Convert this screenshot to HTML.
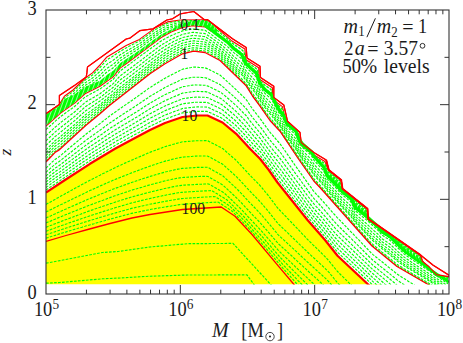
<!DOCTYPE html><html><head><meta charset="utf-8"><style>html,body{margin:0;padding:0;background:#fff;}body{width:463px;height:343px;overflow:hidden;position:relative;font-family:"Liberation Serif",serif;}</style></head><body><svg width="463" height="343" viewBox="0 0 463 343" style="position:absolute;left:0;top:0">
<defs><clipPath id="c"><rect x="46.0" y="10.0" width="403.0" height="274.6"/></clipPath></defs>
<rect width="100%" height="100%" fill="#fff"/>
<g clip-path="url(#c)">
<path d="M46,284.6 L46.0,192.5 L65.0,180.0 L90.0,163.8 L115.0,148.8 L131.2,140.0 L150.0,130.0 L165.0,123.0 L182.5,117.0 L197.5,115.5 L207.5,115.5 L222.5,122.5 L236.2,133.8 L250.0,148.8 L260.0,158.8 L268.8,170.0 L277.5,182.5 L287.5,195.0 L307.5,220.0 L325.0,240.0 L337.5,255.8 L368.2,284.5 L449.0,360.0 L380,284.6 Z" fill="#ffff00"/>
<g fill="none" stroke="#ff0000" stroke-width="1.15" stroke-linejoin="round">
<path d="M46.0,113.8 L59.4,104.4 L59.4,95.6 L74.4,85.6 L86.2,76.9 L86.9,72.9 L87.5,66.9 L126.2,39.0 L130.0,38.1 L140.0,30.6 L153.1,28.8 L166.9,20.0 L172.5,18.8 L180.6,13.8 L193.8,11.5 L204.4,19.8 L207.5,19.8 L232.5,38.8 L246.2,47.5 L247.0,58.0 L260.0,66.2 L260.5,77.5 L273.8,86.2 L273.8,97.5 L283.8,105.0 L287.5,121.2 L300.0,132.5 L301.2,142.5 L313.8,152.5 L326.2,160.0 L328.8,170.0 L341.2,180.0 L342.5,188.8 L367.5,208.8 L368.2,219.0 L379.5,226.5 L420.8,255.2 L433.2,265.2 L449.0,275.2"/>
<path d="M46.0,113.8 L59.4,104.4 L64.4,96.2 L73.0,90.0 L86.0,77.5 L92.5,72.9 L100.0,65.0 L106.9,56.9 L126.2,45.6 L130.0,43.8 L139.4,39.4 L155.0,28.1 L167.5,21.9 L180.0,20.0 L204.4,19.8 L207.5,19.8 L231.2,40.4 L244.9,49.1 L245.7,59.6 L258.7,67.8 L259.2,79.1 L272.4,87.8 L272.4,99.1 L282.4,106.6 L286.2,122.8 L298.7,134.1 L299.9,144.1 L312.4,154.1 L324.9,161.6 L328.4,170.4 L340.9,180.4 L342.2,189.2 L367.2,209.2 L367.9,219.4 L379.2,226.9 L420.4,255.7 L423.0,262.0 L428.2,266.5 L436.0,275.5 L449.0,277.0"/>
<path d="M46.0,126.0 L60.6,113.0 L75.0,102.9 L85.0,93.8 L100.0,86.2 L113.1,76.9 L120.0,68.1 L127.9,62.5 L137.9,55.0 L147.5,47.9 L161.2,37.5 L171.2,31.9 L182.5,27.5 L192.5,25.6 L205.0,26.9 L211.2,31.2"/>
</g>
<g fill="none" stroke="#00ff00" stroke-width="1.15" stroke-dasharray="2.7 1.3">
<path d="M46.0,115.2 L47.5,114.1 L49.0,113.1 L50.5,112.0 L52.0,110.9 L53.5,109.8 L55.0,108.7 L56.5,107.7 L58.0,106.6 L59.5,105.4 L61.0,103.1 L62.5,100.8 L64.0,98.5 L65.5,97.1 L67.0,96.1 L68.5,95.0 L70.0,93.9 L71.5,92.8 L73.0,91.7 L74.5,90.3 L76.0,88.9 L77.5,87.5 L79.0,86.0 L80.5,84.6 L82.0,83.2 L83.5,81.7 L85.0,80.3 L86.5,79.0 L88.0,78.0 L89.5,77.0 L91.0,76.0 L92.5,75.0 L94.0,73.5 L95.5,72.0 L97.0,70.5 L98.5,69.0 L100.0,67.5 L101.5,65.9 L103.0,64.2 L104.5,62.5 L106.0,60.8 L107.5,59.5 L109.0,58.6 L110.5,57.7 L112.0,56.8 L113.5,55.8 L115.0,54.8 L116.5,53.8 L118.0,52.8 L119.5,51.8 L121.0,50.9 L122.5,50.0 L124.0,49.1 L125.5,48.2 L127.0,47.4 L128.5,46.6 L130.0,45.8 L131.5,45.1 L133.0,44.3 L134.5,43.6 L136.0,42.8 L137.5,42.1 L139.0,41.3 L140.5,40.3 L142.0,39.3 L143.5,38.2 L145.0,37.1 L146.5,36.0 L148.0,34.9 L149.5,33.8 L151.0,32.7 L152.5,31.6 L154.0,30.5 L155.5,29.5 L157.0,28.7 L158.5,27.9 L160.0,27.2 L161.5,26.4 L163.0,25.6 L164.5,24.9 L166.0,24.1 L167.5,23.4 L169.0,23.1 L170.5,22.7 L172.0,22.5 L173.5,22.2 L175.0,21.9 L176.5,21.6 L178.0,21.4 L179.5,21.1 L181.0,21.0 L182.5,20.9 L184.0,20.8 L185.5,20.8 L187.0,20.7 L188.5,20.7 L190.0,20.6 L191.5,20.6 L193.0,20.6 L194.5,20.6 L196.0,20.6 L197.5,20.6 L199.0,20.6 L200.5,20.6 L202.0,20.6 L203.5,20.6 L205.0,20.6 L206.5,20.7 L208.0,21.2 L209.5,22.5 L211.0,23.8 L212.5,25.1 L214.0,26.4 L215.5,27.7"/>
<path d="M46.0,117.4 L47.5,116.3 L49.0,115.2 L50.5,114.0 L52.0,112.9 L53.5,111.8 L55.0,110.6 L56.5,109.5 L58.0,108.4 L59.5,107.2 L61.0,105.1 L62.5,103.0 L64.0,101.0 L65.5,99.7 L67.0,98.6 L68.5,97.5 L70.0,96.4 L71.5,95.4 L73.0,94.3 L74.5,93.0 L76.0,91.6 L77.5,90.2 L79.0,88.7 L80.5,87.3 L82.0,85.9 L83.5,84.5 L85.0,83.0 L86.5,81.9 L88.0,80.9 L89.5,80.0 L91.0,79.0 L92.5,78.0 L94.0,76.7 L95.5,75.4 L97.0,74.0 L98.5,72.7 L100.0,71.4 L101.5,69.8 L103.0,68.3 L104.5,66.7 L106.0,65.2 L107.5,63.9 L109.0,62.9 L110.5,62.0 L112.0,61.1 L113.5,60.0 L115.0,58.9 L116.5,57.7 L118.0,56.5 L119.5,55.3 L121.0,54.3 L122.5,53.4 L124.0,52.4 L125.5,51.5 L127.0,50.6 L128.5,49.8 L130.0,48.9 L131.5,48.1 L133.0,47.3 L134.5,46.4 L136.0,45.6 L137.5,44.8 L139.0,44.0 L140.5,42.9 L142.0,41.9 L143.5,40.8 L145.0,39.7 L146.5,38.6 L148.0,37.5 L149.5,36.4 L151.0,35.3 L152.5,34.2 L154.0,33.1 L155.5,32.1 L157.0,31.2 L158.5,30.3 L160.0,29.5 L161.5,28.6 L163.0,27.8 L164.5,27.1 L166.0,26.3 L167.5,25.5 L169.0,25.1 L170.5,24.7 L172.0,24.3 L173.5,24.0 L175.0,23.7 L176.5,23.3 L178.0,23.0 L179.5,22.7 L181.0,22.4 L182.5,22.2 L184.0,22.1 L185.5,22.0 L187.0,21.9 L188.5,21.8 L190.0,21.8 L191.5,21.7 L193.0,21.6 L194.5,21.6 L196.0,21.7 L197.5,21.7 L199.0,21.7 L200.5,21.8 L202.0,21.8 L203.5,21.9 L205.0,21.9 L206.5,22.2 L208.0,22.8 L209.5,24.1 L211.0,25.3 L212.5,26.6 L214.0,27.8 L215.5,29.1"/>
<path d="M46.0,119.5 L47.5,118.3 L49.0,117.1 L50.5,116.0 L52.0,114.8 L53.5,113.6 L55.0,112.4 L56.5,111.2 L58.0,110.0 L59.5,108.8 L61.0,106.9 L62.5,105.1 L64.0,103.3 L65.5,102.1 L67.0,101.0 L68.5,99.9 L70.0,98.9 L71.5,97.8 L73.0,96.7 L74.5,95.5 L76.0,94.1 L77.5,92.7 L79.0,91.3 L80.5,89.9 L82.0,88.5 L83.5,87.1 L85.0,85.6 L86.5,84.6 L88.0,83.7 L89.5,82.8 L91.0,81.9 L92.5,80.9 L94.0,79.7 L95.5,78.6 L97.0,77.4 L98.5,76.2 L100.0,75.0 L101.5,73.6 L103.0,72.1 L104.5,70.7 L106.0,69.2 L107.5,68.0 L109.0,67.0 L110.5,66.1 L112.0,65.1 L113.5,64.0 L115.0,62.7 L116.5,61.3 L118.0,59.9 L119.5,58.6 L121.0,57.5 L122.5,56.5 L124.0,55.5 L125.5,54.6 L127.0,53.6 L128.5,52.7 L130.0,51.8 L131.5,50.9 L133.0,50.0 L134.5,49.1 L136.0,48.2 L137.5,47.3 L139.0,46.4 L140.5,45.4 L142.0,44.3 L143.5,43.2 L145.0,42.1 L146.5,41.0 L148.0,39.9 L149.5,38.8 L151.0,37.7 L152.5,36.6 L154.0,35.5 L155.5,34.4 L157.0,33.5 L158.5,32.6 L160.0,31.6 L161.5,30.7 L163.0,30.0 L164.5,29.2 L166.0,28.4 L167.5,27.6 L169.0,27.1 L170.5,26.6 L172.0,26.1 L173.5,25.7 L175.0,25.3 L176.5,24.9 L178.0,24.5 L179.5,24.1 L181.0,23.8 L182.5,23.5 L184.0,23.4 L185.5,23.2 L187.0,23.1 L188.5,22.9 L190.0,22.8 L191.5,22.7 L193.0,22.6 L194.5,22.7 L196.0,22.7 L197.5,22.8 L199.0,22.8 L200.5,22.9 L202.0,23.0 L203.5,23.0 L205.0,23.1 L206.5,23.6 L208.0,24.3 L209.5,25.5 L211.0,26.7 L212.5,28.0 L214.0,29.2 L215.5,30.5"/>
<path d="M46.0,121.3 L47.5,120.1 L49.0,118.9 L50.5,117.7 L52.0,116.4 L53.5,115.2 L55.0,114.0 L56.5,112.8 L58.0,111.5 L59.5,110.3 L61.0,108.6 L62.5,107.0 L64.0,105.4 L65.5,104.2 L67.0,103.1 L68.5,102.1 L70.0,101.0 L71.5,99.9 L73.0,98.9 L74.5,97.7 L76.0,96.3 L77.5,94.9 L79.0,93.5 L80.5,92.1 L82.0,90.7 L83.5,89.3 L85.0,87.9 L86.5,87.0 L88.0,86.1 L89.5,85.2 L91.0,84.4 L92.5,83.5 L94.0,82.4 L95.5,81.4 L97.0,80.3 L98.5,79.2 L100.0,78.2 L101.5,76.8 L103.0,75.5 L104.5,74.2 L106.0,72.8 L107.5,71.6 L109.0,70.6 L110.5,69.7 L112.0,68.7 L113.5,67.5 L115.0,66.0 L116.5,64.5 L118.0,63.0 L119.5,61.4 L121.0,60.3 L122.5,59.3 L124.0,58.3 L125.5,57.3 L127.0,56.3 L128.5,55.4 L130.0,54.4 L131.5,53.4 L133.0,52.5 L134.5,51.5 L136.0,50.6 L137.5,49.6 L139.0,48.6 L140.5,47.6 L142.0,46.5 L143.5,45.4 L145.0,44.3 L146.5,43.2 L148.0,42.1 L149.5,41.0 L151.0,39.8 L152.5,38.7 L154.0,37.6 L155.5,36.5 L157.0,35.5 L158.5,34.6 L160.0,33.6 L161.5,32.6 L163.0,31.8 L164.5,31.0 L166.0,30.2 L167.5,29.4 L169.0,28.8 L170.5,28.2 L172.0,27.7 L173.5,27.2 L175.0,26.8 L176.5,26.3 L178.0,25.9 L179.5,25.4 L181.0,25.0 L182.5,24.6 L184.0,24.5 L185.5,24.3 L187.0,24.1 L188.5,23.9 L190.0,23.7 L191.5,23.5 L193.0,23.5 L194.5,23.5 L196.0,23.6 L197.5,23.7 L199.0,23.8 L200.5,23.9 L202.0,24.0 L203.5,24.1 L205.0,24.2 L206.5,24.8 L208.0,25.6 L209.5,26.8 L211.0,27.9 L212.5,29.2 L214.0,30.5 L215.5,31.7"/>
<path d="M46.0,129.6 L47.5,128.2 L49.0,126.9 L50.5,125.5 L52.0,124.2 L53.5,122.8 L55.0,121.4 L56.5,120.1 L58.0,118.9 L59.5,117.5 L61.0,116.3 L62.5,115.2 L64.0,114.1 L65.5,113.0 L67.0,111.9 L68.5,110.8 L70.0,109.7 L71.5,108.7 L73.0,107.6 L74.5,106.5 L76.0,105.2 L77.5,103.8 L79.0,102.5 L80.5,101.1 L82.0,99.7 L83.5,98.4 L85.0,97.0 L86.5,96.2 L88.0,95.4 L89.5,94.6 L91.0,93.8 L92.5,93.0 L94.0,92.2 L95.5,91.4 L97.0,90.6 L98.5,89.8 L100.0,89.0 L101.5,87.9 L103.0,86.8 L104.5,85.7 L106.0,84.6 L107.5,83.5 L109.0,82.4 L110.5,81.3 L112.0,80.3 L113.5,79.0 L115.0,77.1 L116.5,75.3 L118.0,73.5 L119.5,71.6 L121.0,70.3 L122.5,69.2 L124.0,68.1 L125.5,67.1 L127.0,66.0 L128.5,64.9 L130.0,63.8 L131.5,62.6 L133.0,61.5 L134.5,60.4 L136.0,59.3 L137.5,58.1 L139.0,57.0 L140.5,55.9 L142.0,54.8 L143.5,53.7 L145.0,52.7 L146.5,51.6 L148.0,50.5 L149.5,49.4 L151.0,48.3 L152.5,47.2 L154.0,46.1 L155.5,45.0 L157.0,44.0 L158.5,42.9 L160.0,41.8 L161.5,40.8 L163.0,39.9 L164.5,39.1 L166.0,38.3 L167.5,37.5 L169.0,36.7 L170.5,35.9 L172.0,35.2 L173.5,34.6 L175.0,34.0 L176.5,33.4 L178.0,32.8 L179.5,32.2 L181.0,31.5 L182.5,30.9 L184.0,30.6 L185.5,30.3 L187.0,30.0 L188.5,29.7 L190.0,29.5 L191.5,29.2 L193.0,29.0 L194.5,29.1 L196.0,29.3 L197.5,29.4 L199.0,29.6 L200.5,29.8 L202.0,29.9 L203.5,30.1 L205.0,30.2 L206.5,31.2 L208.0,32.3 L209.5,33.3 L211.0,34.3 L212.5,35.4 L214.0,36.6 L215.5,37.8 L217.0,38.8 L218.5,39.9 L220.0,40.9 L221.5,42.1 L223.0,43.2 L224.5,44.3 L226.0,45.4 L227.5,46.6 L229.0,48.0 L230.5,49.5 L232.0,50.9 L233.5,52.4 L235.0,53.6 L236.5,54.7 L238.0,55.9 L239.5,57.0 L241.0,58.2 L242.5,60.2 L244.0,63.6 L245.5,66.5 L247.0,68.2 L248.5,69.7 L250.0,71.1 L251.5,72.6 L253.0,74.0 L254.5,75.4 L256.0,76.8 L257.5,80.4 L259.0,84.4 L260.5,87.8 L262.0,89.7 L263.5,91.6 L265.0,93.5 L266.5,94.8 L268.0,96.1 L269.5,97.3 L271.0,98.6 L272.5,101.1 L274.0,103.9 L275.5,106.9 L277.0,110.0 L278.5,112.2 L280.0,114.4 L281.5,116.4 L283.0,118.4 L284.5,121.2 L286.0,124.6 L287.5,127.2 L289.0,128.6 L290.5,130.0 L292.0,131.4 L293.5,132.7 L295.0,134.1 L296.5,136.0 L298.0,140.3 L299.5,143.5 L301.0,145.5 L302.5,147.5 L304.0,148.8 L305.5,150.2 L307.0,151.5 L308.5,152.9 L310.0,154.2 L311.5,155.8 L313.0,158.5 L314.5,160.9 L316.0,162.5 L317.5,164.2 L319.0,165.8 L320.5,167.5 L322.0,169.1 L323.5,170.8 L325.0,173.8 L326.5,177.1 L328.0,179.8 L329.5,181.4 L331.0,182.9 L332.5,184.4 L334.0,185.9 L335.5,187.4 L337.0,189.1 L338.5,190.8 L340.0,192.5 L341.5,194.1 L343.0,195.4 L344.5,196.6 L346.0,197.9 L347.5,199.1 L349.0,200.4 L350.5,201.6 L352.0,203.9 L353.5,207.2 L355.0,210.6 L356.5,211.8 L358.0,213.0 L359.5,214.2 L361.0,215.4 L362.5,216.7 L364.0,217.9 L365.5,219.1 L367.0,220.4 L368.5,221.7 L370.0,223.1 L371.5,224.5 L373.0,225.8 L374.5,227.2 L376.0,228.5 L377.5,229.9 L379.0,231.4 L380.5,233.5 L382.0,235.1 L383.5,236.0 L385.0,237.0 L386.5,238.0 L388.0,238.9 L389.5,239.9 L391.0,241.2 L392.5,242.7 L394.0,244.1 L395.5,245.6 L397.0,247.1 L398.5,248.5 L400.0,250.0 L401.5,251.4 L403.0,252.9 L404.5,254.3 L406.0,255.4 L407.5,256.4 L409.0,257.4 L410.5,258.4 L412.0,259.4 L413.5,260.5 L415.0,261.5 L416.5,262.5 L418.0,263.5 L419.5,264.5 L421.0,265.6 L422.5,266.6 L424.0,267.6 L425.5,268.6 L427.0,269.6 L428.5,270.6 L430.0,271.6 L431.5,272.6 L433.0,273.6 L434.5,274.6 L436.0,275.6 L437.5,276.6 L439.0,277.6 L440.5,278.6 L442.0,279.7 L443.5,280.7 L445.0,281.7 L446.5,282.7 L448.0,283.7"/>
<path d="M46.0,135.7 L47.5,134.3 L49.0,132.9 L50.5,131.5 L52.0,130.1 L53.5,128.7 L55.0,127.3 L56.5,126.1 L58.0,124.9 L59.5,123.6 L61.0,122.3 L62.5,121.1 L64.0,120.0 L65.5,118.9 L67.0,117.7 L68.5,116.6 L70.0,115.4 L71.5,114.3 L73.0,113.2 L74.5,112.0 L76.0,110.7 L77.5,109.3 L79.0,108.0 L80.5,106.6 L82.0,105.2 L83.5,103.9 L85.0,102.5 L86.5,101.6 L88.0,100.7 L89.5,99.8 L91.0,98.9 L92.5,98.1 L94.0,97.2 L95.5,96.3 L97.0,95.4 L98.5,94.6 L100.0,93.7 L101.5,92.5 L103.0,91.4 L104.5,90.3 L106.0,89.1 L107.5,88.0 L109.0,86.8 L110.5,85.7 L112.0,84.6 L113.5,83.4 L115.0,81.7 L116.5,80.0 L118.0,78.2 L119.5,76.5 L121.0,75.2 L122.5,74.1 L124.0,73.0 L125.5,72.0 L127.0,70.9 L128.5,69.7 L130.0,68.6 L131.5,67.5 L133.0,66.3 L134.5,65.2 L136.0,64.1 L137.5,62.9 L139.0,61.8 L140.5,60.7 L142.0,59.5 L143.5,58.4 L145.0,57.2 L146.5,56.1 L148.0,55.0 L149.5,53.8 L151.0,52.7 L152.5,51.6 L154.0,50.5 L155.5,49.3 L157.0,48.2 L158.5,47.1 L160.0,46.0 L161.5,44.9 L163.0,44.0 L164.5,43.2 L166.0,42.3 L167.5,41.4 L169.0,40.6 L170.5,39.7 L172.0,38.9 L173.5,38.3 L175.0,37.6 L176.5,37.0 L178.0,36.3 L179.5,35.6 L181.0,35.0 L182.5,34.3 L184.0,34.0 L185.5,33.7 L187.0,33.4 L188.5,33.1 L190.0,32.8 L191.5,32.5 L193.0,32.4 L194.5,32.4 L196.0,32.6 L197.5,32.8 L199.0,32.9 L200.5,33.1 L202.0,33.2 L203.5,33.4 L205.0,33.6 L206.5,34.5 L208.0,35.5 L209.5,36.5 L211.0,37.5 L212.5,38.6 L214.0,39.7 L215.5,40.8 L217.0,41.9 L218.5,42.9 L220.0,44.0 L221.5,45.2 L223.0,46.4 L224.5,47.6 L226.0,48.9 L227.5,50.1 L229.0,51.6 L230.5,53.1 L232.0,54.6 L233.5,56.1 L235.0,57.4 L236.5,58.6 L238.0,59.8 L239.5,61.1 L241.0,62.3 L242.5,64.3 L244.0,67.3 L245.5,70.0 L247.0,71.8 L248.5,73.4 L250.0,75.1 L251.5,76.7 L253.0,78.3 L254.5,79.8 L256.0,81.4 L257.5,84.7 L259.0,88.3 L260.5,91.4 L262.0,93.3 L263.5,95.3 L265.0,97.2 L266.5,98.7 L268.0,100.1 L269.5,101.6 L271.0,102.9 L272.5,105.3 L274.0,107.8 L275.5,110.6 L277.0,113.4 L278.5,115.5 L280.0,117.6 L281.5,119.6 L283.0,121.7 L284.5,124.3 L286.0,127.6 L287.5,130.1 L289.0,131.6 L290.5,133.2 L292.0,134.7 L293.5,136.3 L295.0,137.8 L296.5,139.8 L298.0,143.7 L299.5,146.7 L301.0,148.7 L302.5,150.7 L304.0,152.2 L305.5,153.7 L307.0,155.2 L308.5,156.7 L310.0,158.2 L311.5,159.9 L313.0,162.6 L314.5,164.8 L316.0,166.5 L317.5,168.1 L319.0,169.7 L320.5,171.3 L322.0,173.0 L323.5,174.7 L325.0,177.5 L326.5,180.5 L328.0,183.0 L329.5,184.5 L331.0,186.1 L332.5,187.6 L334.0,189.2 L335.5,190.7 L337.0,192.4 L338.5,194.1 L340.0,195.8 L341.5,197.5 L343.0,198.8 L344.5,200.1 L346.0,201.5 L347.5,202.8 L349.0,204.1 L350.5,205.5 L352.0,207.6 L353.5,210.6 L355.0,213.6 L356.5,215.0 L358.0,216.3 L359.5,217.6 L361.0,218.9 L362.5,220.2 L364.0,221.5 L365.5,222.8 L367.0,224.2 L368.5,225.6 L370.0,227.0 L371.5,228.4 L373.0,229.8 L374.5,231.1 L376.0,232.5 L377.5,233.8 L379.0,235.2 L380.5,237.2 L382.0,238.7 L383.5,239.7 L385.0,240.7 L386.5,241.7 L388.0,242.7 L389.5,243.7 L391.0,245.0 L392.5,246.5 L394.0,247.9 L395.5,249.3 L397.0,250.8 L398.5,252.1 L400.0,253.4 L401.5,254.8 L403.0,256.1 L404.5,257.4 L406.0,258.4 L407.5,259.4 L409.0,260.4 L410.5,261.4 L412.0,262.4 L413.5,263.4 L415.0,264.4 L416.5,265.4 L418.0,266.4 L419.5,267.4 L421.0,268.3 L422.5,269.3 L424.0,270.3 L425.5,271.3 L427.0,272.3 L428.5,273.2 L430.0,274.2 L431.5,275.2 L433.0,276.2 L434.5,277.2 L436.0,278.1 L437.5,279.1 L439.0,280.1 L440.5,281.1 L442.0,282.1 L443.5,283.1 L445.0,284.0 L446.5,285.0 L448.0,286.0"/>
<path d="M46.0,140.8 L47.5,139.3 L49.0,137.9 L50.5,136.5 L52.0,135.0 L53.5,133.6 L55.0,132.1 L56.5,130.9 L58.0,129.8 L59.5,128.5 L61.0,127.2 L62.5,126.0 L64.0,124.9 L65.5,123.7 L67.0,122.5 L68.5,121.3 L70.0,120.1 L71.5,118.9 L73.0,117.7 L74.5,116.6 L76.0,115.2 L77.5,113.9 L79.0,112.5 L80.5,111.1 L82.0,109.8 L83.5,108.4 L85.0,107.0 L86.5,106.0 L88.0,105.1 L89.5,104.1 L91.0,103.2 L92.5,102.3 L94.0,101.3 L95.5,100.4 L97.0,99.4 L98.5,98.5 L100.0,97.5 L101.5,96.3 L103.0,95.2 L104.5,94.0 L106.0,92.8 L107.5,91.6 L109.0,90.5 L110.5,89.4 L112.0,88.3 L113.5,87.0 L115.0,85.4 L116.5,83.8 L118.0,82.2 L119.5,80.6 L121.0,79.3 L122.5,78.2 L124.0,77.1 L125.5,76.0 L127.0,74.9 L128.5,73.7 L130.0,72.6 L131.5,71.4 L133.0,70.3 L134.5,69.2 L136.0,68.0 L137.5,66.9 L139.0,65.7 L140.5,64.6 L142.0,63.4 L143.5,62.2 L145.0,61.1 L146.5,59.9 L148.0,58.7 L149.5,57.5 L151.0,56.4 L152.5,55.3 L154.0,54.2 L155.5,53.1 L157.0,51.9 L158.5,50.8 L160.0,49.7 L161.5,48.6 L163.0,47.7 L164.5,46.7 L166.0,45.8 L167.5,44.9 L169.0,44.1 L170.5,43.2 L172.0,42.4 L173.5,41.6 L175.0,40.9 L176.5,40.2 L178.0,39.5 L179.5,38.9 L181.0,38.2 L182.5,37.5 L184.0,37.2 L185.5,36.9 L187.0,36.6 L188.5,36.3 L190.0,36.0 L191.5,35.7 L193.0,35.4 L194.5,35.5 L196.0,35.7 L197.5,35.8 L199.0,36.0 L200.5,36.1 L202.0,36.3 L203.5,36.5 L205.0,36.6 L206.5,37.6 L208.0,38.5 L209.5,39.5 L211.0,40.4 L212.5,41.5 L214.0,42.6 L215.5,43.6 L217.0,44.7 L218.5,45.7 L220.0,46.7 L221.5,48.0 L223.0,49.3 L224.5,50.6 L226.0,51.9 L227.5,53.2 L229.0,54.7 L230.5,56.2 L232.0,57.7 L233.5,59.2 L235.0,60.6 L236.5,61.9 L238.0,63.2 L239.5,64.5 L241.0,65.8 L242.5,67.7 L244.0,70.4 L245.5,72.9 L247.0,74.7 L248.5,76.5 L250.0,78.3 L251.5,80.1 L253.0,81.8 L254.5,83.5 L256.0,85.1 L257.5,88.1 L259.0,91.5 L260.5,94.4 L262.0,96.4 L263.5,98.3 L265.0,100.3 L266.5,101.9 L268.0,103.5 L269.5,105.1 L271.0,106.5 L272.5,108.7 L274.0,111.1 L275.5,113.6 L277.0,116.2 L278.5,118.2 L280.0,120.2 L281.5,122.3 L283.0,124.4 L284.5,127.0 L286.0,130.0 L287.5,132.5 L289.0,134.2 L290.5,135.8 L292.0,137.5 L293.5,139.2 L295.0,140.9 L296.5,142.9 L298.0,146.5 L299.5,149.3 L301.0,151.3 L302.5,153.4 L304.0,155.0 L305.5,156.6 L307.0,158.3 L308.5,159.9 L310.0,161.6 L311.5,163.3 L313.0,165.9 L314.5,168.1 L316.0,169.7 L317.5,171.3 L319.0,172.9 L320.5,174.6 L322.0,176.2 L323.5,177.9 L325.0,180.5 L326.5,183.2 L328.0,185.6 L329.5,187.2 L331.0,188.7 L332.5,190.3 L334.0,191.9 L335.5,193.5 L337.0,195.1 L338.5,196.8 L340.0,198.5 L341.5,200.2 L343.0,201.6 L344.5,203.0 L346.0,204.4 L347.5,205.8 L349.0,207.2 L350.5,208.6 L352.0,210.7 L353.5,213.4 L355.0,216.2 L356.5,217.6 L358.0,218.9 L359.5,220.3 L361.0,221.7 L362.5,223.1 L364.0,224.5 L365.5,225.8 L367.0,227.3 L368.5,228.7 L370.0,230.2 L371.5,231.7 L373.0,233.1 L374.5,234.4 L376.0,235.7 L377.5,237.0 L379.0,238.4 L380.5,240.2 L382.0,241.7 L383.5,242.7 L385.0,243.8 L386.5,244.8 L388.0,245.9 L389.5,246.9 L391.0,248.2 L392.5,249.6 L394.0,251.0 L395.5,252.4 L397.0,253.8 L398.5,255.0 L400.0,256.3 L401.5,257.5 L403.0,258.8 L404.5,260.0 L406.0,261.0 L407.5,261.9 L409.0,262.9 L410.5,263.9 L412.0,264.8 L413.5,265.8 L415.0,266.8 L416.5,267.7 L418.0,268.7 L419.5,269.7 L421.0,270.6 L422.5,271.6 L424.0,272.6 L425.5,273.5 L427.0,274.5 L428.5,275.4 L430.0,276.4 L431.5,277.3 L433.0,278.3 L434.5,279.3 L436.0,280.2 L437.5,281.2 L439.0,282.1 L440.5,283.1 L442.0,284.1 L443.5,285.0 L445.0,286.0 L446.5,286.9 L448.0,287.9"/>
<path d="M46.0,145.4 L47.5,144.0 L49.0,142.5 L50.5,141.0 L52.0,139.6 L53.5,138.1 L55.0,136.6 L56.5,135.5 L58.0,134.4 L59.5,133.1 L61.0,131.8 L62.5,130.6 L64.0,129.4 L65.5,128.1 L67.0,126.9 L68.5,125.7 L70.0,124.4 L71.5,123.2 L73.0,122.0 L74.5,120.8 L76.0,119.5 L77.5,118.1 L79.0,116.7 L80.5,115.3 L82.0,114.0 L83.5,112.6 L85.0,111.2 L86.5,110.2 L88.0,109.2 L89.5,108.2 L91.0,107.1 L92.5,106.1 L94.0,105.1 L95.5,104.1 L97.0,103.1 L98.5,102.1 L100.0,101.1 L101.5,99.9 L103.0,98.7 L104.5,97.5 L106.0,96.3 L107.5,95.1 L109.0,93.9 L110.5,92.7 L112.0,91.6 L113.5,90.4 L115.0,88.9 L116.5,87.3 L118.0,85.8 L119.5,84.3 L121.0,83.1 L122.5,81.9 L124.0,80.8 L125.5,79.7 L127.0,78.6 L128.5,77.4 L130.0,76.3 L131.5,75.1 L133.0,74.0 L134.5,72.8 L136.0,71.7 L137.5,70.5 L139.0,69.4 L140.5,68.2 L142.0,67.0 L143.5,65.8 L145.0,64.6 L146.5,63.4 L148.0,62.2 L149.5,61.0 L151.0,59.8 L152.5,58.7 L154.0,57.6 L155.5,56.5 L157.0,55.3 L158.5,54.2 L160.0,53.1 L161.5,52.0 L163.0,51.0 L164.5,50.0 L166.0,49.1 L167.5,48.2 L169.0,47.3 L170.5,46.4 L172.0,45.5 L173.5,44.7 L175.0,44.0 L176.5,43.2 L178.0,42.5 L179.5,41.8 L181.0,41.1 L182.5,40.4 L184.0,40.1 L185.5,39.7 L187.0,39.4 L188.5,39.1 L190.0,38.8 L191.5,38.5 L193.0,38.3 L194.5,38.3 L196.0,38.5 L197.5,38.6 L199.0,38.8 L200.5,39.0 L202.0,39.1 L203.5,39.3 L205.0,39.4 L206.5,40.4 L208.0,41.3 L209.5,42.2 L211.0,43.1 L212.5,44.2 L214.0,45.2 L215.5,46.2 L217.0,47.2 L218.5,48.3 L220.0,49.3 L221.5,50.6 L223.0,52.0 L224.5,53.3 L226.0,54.7 L227.5,56.0 L229.0,57.5 L230.5,59.1 L232.0,60.6 L233.5,62.1 L235.0,63.5 L236.5,64.9 L238.0,66.3 L239.5,67.6 L241.0,69.0 L242.5,70.8 L244.0,73.3 L245.5,75.6 L247.0,77.4 L248.5,79.3 L250.0,81.3 L251.5,83.2 L253.0,85.1 L254.5,86.8 L256.0,88.5 L257.5,91.4 L259.0,94.4 L260.5,97.1 L262.0,99.2 L263.5,101.2 L265.0,103.2 L266.5,104.9 L268.0,106.6 L269.5,108.3 L271.0,109.8 L272.5,111.9 L274.0,114.1 L275.5,116.5 L277.0,118.8 L278.5,120.7 L280.0,122.6 L281.5,124.8 L283.0,126.9 L284.5,129.4 L286.0,132.2 L287.5,134.7 L289.0,136.5 L290.5,138.3 L292.0,140.1 L293.5,141.9 L295.0,143.7 L296.5,145.8 L298.0,149.1 L299.5,151.7 L301.0,153.8 L302.5,155.9 L304.0,157.6 L305.5,159.3 L307.0,161.1 L308.5,162.9 L310.0,164.6 L311.5,166.5 L313.0,169.0 L314.5,171.1 L316.0,172.7 L317.5,174.3 L319.0,175.9 L320.5,177.5 L322.0,179.2 L323.5,180.9 L325.0,183.3 L326.5,185.8 L328.0,188.0 L329.5,189.6 L331.0,191.2 L332.5,192.8 L334.0,194.4 L335.5,196.0 L337.0,197.6 L338.5,199.4 L340.0,201.1 L341.5,202.7 L343.0,204.2 L344.5,205.6 L346.0,207.1 L347.5,208.6 L349.0,210.0 L350.5,211.5 L352.0,213.5 L353.5,216.0 L355.0,218.5 L356.5,220.0 L358.0,221.4 L359.5,222.9 L361.0,224.3 L362.5,225.8 L364.0,227.2 L365.5,228.7 L367.0,230.2 L368.5,231.7 L370.0,233.2 L371.5,234.7 L373.0,236.1 L374.5,237.4 L376.0,238.7 L377.5,240.0 L379.0,241.3 L380.5,243.0 L382.0,244.4 L383.5,245.5 L385.0,246.6 L386.5,247.7 L388.0,248.8 L389.5,249.9 L391.0,251.2 L392.5,252.5 L394.0,253.9 L395.5,255.2 L397.0,256.6 L398.5,257.7 L400.0,258.9 L401.5,260.1 L403.0,261.2 L404.5,262.4 L406.0,263.3 L407.5,264.3 L409.0,265.2 L410.5,266.2 L412.0,267.1 L413.5,268.1 L415.0,269.0 L416.5,269.9 L418.0,270.9 L419.5,271.8 L421.0,272.8 L422.5,273.7 L424.0,274.7 L425.5,275.6 L427.0,276.5 L428.5,277.5 L430.0,278.4 L431.5,279.3 L433.0,280.3 L434.5,281.2 L436.0,282.2 L437.5,283.1 L439.0,284.0 L440.5,285.0 L442.0,285.9 L443.5,286.8 L445.0,287.8 L446.5,288.7 L448.0,289.7"/>
<path d="M46.0,149.8 L47.5,148.3 L49.0,146.8 L50.5,145.3 L52.0,143.8 L53.5,142.3 L55.0,140.8 L56.5,139.6 L58.0,138.7 L59.5,137.4 L61.0,136.1 L62.5,134.8 L64.0,133.5 L65.5,132.3 L67.0,131.0 L68.5,129.7 L70.0,128.5 L71.5,127.2 L73.0,125.9 L74.5,124.7 L76.0,123.3 L77.5,122.0 L79.0,120.6 L80.5,119.2 L82.0,117.9 L83.5,116.5 L85.0,115.1 L86.5,114.0 L88.0,112.9 L89.5,111.9 L91.0,110.8 L92.5,109.7 L94.0,108.7 L95.5,107.6 L97.0,106.5 L98.5,105.5 L100.0,104.4 L101.5,103.2 L103.0,101.9 L104.5,100.7 L106.0,99.4 L107.5,98.2 L109.0,97.0 L110.5,95.8 L112.0,94.7 L113.5,93.5 L115.0,92.1 L116.5,90.6 L118.0,89.2 L119.5,87.8 L121.0,86.6 L122.5,85.4 L124.0,84.3 L125.5,83.1 L127.0,82.0 L128.5,80.9 L130.0,79.7 L131.5,78.6 L133.0,77.4 L134.5,76.2 L136.0,75.1 L137.5,73.9 L139.0,72.8 L140.5,71.6 L142.0,70.4 L143.5,69.1 L145.0,67.9 L146.5,66.7 L148.0,65.4 L149.5,64.2 L151.0,63.0 L152.5,61.9 L154.0,60.7 L155.5,59.6 L157.0,58.5 L158.5,57.3 L160.0,56.2 L161.5,55.1 L163.0,54.1 L164.5,53.0 L166.0,52.1 L167.5,51.1 L169.0,50.2 L170.5,49.3 L172.0,48.4 L173.5,47.5 L175.0,46.7 L176.5,46.0 L178.0,45.2 L179.5,44.5 L181.0,43.7 L182.5,43.0 L184.0,42.7 L185.5,42.4 L187.0,42.0 L188.5,41.7 L190.0,41.4 L191.5,41.1 L193.0,40.9 L194.5,40.9 L196.0,41.0 L197.5,41.2 L199.0,41.4 L200.5,41.5 L202.0,41.7 L203.5,41.8 L205.0,42.0 L206.5,42.9 L208.0,43.8 L209.5,44.7 L211.0,45.6 L212.5,46.6 L214.0,47.6 L215.5,48.6 L217.0,49.6 L218.5,50.6 L220.0,51.6 L221.5,53.0 L223.0,54.4 L224.5,55.8 L226.0,57.2 L227.5,58.6 L229.0,60.2 L230.5,61.7 L232.0,63.3 L233.5,64.8 L235.0,66.3 L236.5,67.7 L238.0,69.1 L239.5,70.5 L241.0,71.9 L242.5,73.7 L244.0,76.0 L245.5,78.0 L247.0,79.9 L248.5,82.0 L250.0,84.1 L251.5,86.1 L253.0,88.1 L254.5,89.9 L256.0,91.7 L257.5,94.4 L259.0,97.2 L260.5,99.7 L262.0,101.8 L263.5,103.8 L265.0,105.9 L266.5,107.7 L268.0,109.5 L269.5,111.3 L271.0,112.9 L272.5,114.8 L274.0,116.9 L275.5,119.1 L277.0,121.2 L278.5,123.0 L280.0,124.9 L281.5,127.0 L283.0,129.2 L284.5,131.6 L286.0,134.3 L287.5,136.7 L289.0,138.6 L290.5,140.6 L292.0,142.5 L293.5,144.4 L295.0,146.3 L296.5,148.4 L298.0,151.5 L299.5,154.0 L301.0,156.1 L302.5,158.2 L304.0,160.0 L305.5,161.8 L307.0,163.7 L308.5,165.6 L310.0,167.5 L311.5,169.4 L313.0,171.8 L314.5,173.9 L316.0,175.5 L317.5,177.1 L319.0,178.7 L320.5,180.3 L322.0,182.0 L323.5,183.6 L325.0,185.8 L326.5,188.1 L328.0,190.2 L329.5,191.8 L331.0,193.5 L332.5,195.1 L334.0,196.7 L335.5,198.3 L337.0,200.0 L338.5,201.7 L340.0,203.4 L341.5,205.1 L343.0,206.6 L344.5,208.1 L346.0,209.6 L347.5,211.1 L349.0,212.7 L350.5,214.2 L352.0,216.1 L353.5,218.4 L355.0,220.7 L356.5,222.2 L358.0,223.7 L359.5,225.2 L361.0,226.8 L362.5,228.3 L364.0,229.8 L365.5,231.3 L367.0,232.8 L368.5,234.4 L370.0,235.9 L371.5,237.5 L373.0,238.9 L374.5,240.2 L376.0,241.4 L377.5,242.7 L379.0,244.1 L380.5,245.6 L382.0,247.0 L383.5,248.1 L385.0,249.2 L386.5,250.4 L388.0,251.5 L389.5,252.6 L391.0,253.9 L392.5,255.2 L394.0,256.5 L395.5,257.8 L397.0,259.2 L398.5,260.3 L400.0,261.3 L401.5,262.4 L403.0,263.5 L404.5,264.6 L406.0,265.5 L407.5,266.4 L409.0,267.4 L410.5,268.3 L412.0,269.2 L413.5,270.1 L415.0,271.1 L416.5,272.0 L418.0,272.9 L419.5,273.8 L421.0,274.7 L422.5,275.7 L424.0,276.6 L425.5,277.5 L427.0,278.4 L428.5,279.3 L430.0,280.3 L431.5,281.2 L433.0,282.1 L434.5,283.0 L436.0,283.9 L437.5,284.9 L439.0,285.8 L440.5,286.7 L442.0,287.6 L443.5,288.5 L445.0,289.5"/>
<path d="M46.0,152.6 L47.5,151.1 L49.0,149.6 L50.5,148.1 L52.0,146.6 L53.5,145.1 L55.0,143.5 L56.5,142.4 L58.0,141.5 L59.5,140.2 L61.0,138.9 L62.5,137.6 L64.0,136.3 L65.5,135.0 L67.0,133.7 L68.5,132.4 L70.0,131.1 L71.5,129.8 L73.0,128.6 L74.5,127.3 L76.0,125.9 L77.5,124.6 L79.0,123.2 L80.5,121.8 L82.0,120.4 L83.5,119.1 L85.0,117.7 L86.5,116.5 L88.0,115.4 L89.5,114.3 L91.0,113.2 L92.5,112.1 L94.0,111.0 L95.5,109.9 L97.0,108.8 L98.5,107.7 L100.0,106.6 L101.5,105.3 L103.0,104.1 L104.5,102.8 L106.0,101.6 L107.5,100.3 L109.0,99.1 L110.5,97.9 L112.0,96.8 L113.5,95.6 L115.0,94.2 L116.5,92.8 L118.0,91.5 L119.5,90.1 L121.0,88.9 L122.5,87.7 L124.0,86.6 L125.5,85.4 L127.0,84.3 L128.5,83.1 L130.0,82.0 L131.5,80.8 L133.0,79.7 L134.5,78.5 L136.0,77.3 L137.5,76.2 L139.0,75.0 L140.5,73.8 L142.0,72.6 L143.5,71.4 L145.0,70.2 L146.5,68.9 L148.0,67.7 L149.5,66.5 L151.0,65.3 L152.5,64.2 L154.0,63.1 L155.5,62.0 L157.0,60.9 L158.5,59.8 L160.0,58.7 L161.5,57.6 L163.0,56.5 L164.5,55.5 L166.0,54.5 L167.5,53.6 L169.0,52.7 L170.5,51.8 L172.0,50.9 L173.5,50.0 L175.0,49.2 L176.5,48.4 L178.0,47.7 L179.5,46.9 L181.0,46.1 L182.5,45.4 L184.0,45.0 L185.5,44.7 L187.0,44.4 L188.5,44.1 L190.0,43.8 L191.5,43.4 L193.0,43.2 L194.5,43.2 L196.0,43.3 L197.5,43.5 L199.0,43.7 L200.5,43.8 L202.0,44.0 L203.5,44.1 L205.0,44.3 L206.5,45.2 L208.0,46.1 L209.5,46.9 L211.0,47.8 L212.5,48.8 L214.0,49.7 L215.5,50.7 L217.0,51.6 L218.5,52.6 L220.0,53.6 L221.5,55.0 L223.0,56.4 L224.5,57.8 L226.0,59.2 L227.5,60.7 L229.0,62.2 L230.5,63.7 L232.0,65.3 L233.5,66.8 L235.0,68.3 L236.5,69.7 L238.0,71.1 L239.5,72.6 L241.0,74.0 L242.5,75.7 L244.0,77.8 L245.5,79.7 L247.0,81.6 L248.5,83.7 L250.0,85.9 L251.5,88.1 L253.0,90.1 L254.5,92.0 L256.0,93.9 L257.5,96.4 L259.0,99.0 L260.5,101.4 L262.0,103.5 L263.5,105.6 L265.0,107.6 L266.5,109.5 L268.0,111.4 L269.5,113.3 L271.0,114.9 L272.5,116.8 L274.0,118.8 L275.5,120.8 L277.0,122.8 L278.5,124.6 L280.0,126.4 L281.5,128.6 L283.0,130.7 L284.5,133.1 L286.0,135.7 L287.5,138.1 L289.0,140.1 L290.5,142.1 L292.0,144.1 L293.5,146.1 L295.0,148.1 L296.5,150.2 L298.0,153.0 L299.5,155.5 L301.0,157.6 L302.5,159.7 L304.0,161.6 L305.5,163.5 L307.0,165.4 L308.5,167.4 L310.0,169.4 L311.5,171.4 L313.0,173.7 L314.5,175.7 L316.0,177.3 L317.5,178.9 L319.0,180.5 L320.5,182.1 L322.0,183.8 L323.5,185.5 L325.0,187.5 L326.5,189.7 L328.0,191.7 L329.5,193.3 L331.0,195.0 L332.5,196.6 L334.0,198.2 L335.5,199.9 L337.0,201.6 L338.5,203.2 L340.0,204.9 L341.5,206.6 L343.0,208.2 L344.5,209.7 L346.0,211.3 L347.5,212.9 L349.0,214.4 L350.5,216.0 L352.0,217.8 L353.5,220.0 L355.0,222.2 L356.5,223.7 L358.0,225.3 L359.5,226.8 L361.0,228.4 L362.5,229.9 L364.0,231.5 L365.5,233.0 L367.0,234.6 L368.5,236.2 L370.0,237.8 L371.5,239.4 L373.0,240.8 L374.5,242.0 L376.0,243.3 L377.5,244.6 L379.0,245.9 L380.5,247.4 L382.0,248.7 L383.5,249.8 L385.0,251.0 L386.5,252.1 L388.0,253.3 L389.5,254.4 L391.0,255.7 L392.5,257.0 L394.0,258.3 L395.5,259.6 L397.0,260.9 L398.5,261.9 L400.0,263.0 L401.5,264.0 L403.0,265.0 L404.5,266.1 L406.0,267.0 L407.5,267.9 L409.0,268.8 L410.5,269.7 L412.0,270.6 L413.5,271.5 L415.0,272.4 L416.5,273.3 L418.0,274.2 L419.5,275.2 L421.0,276.1 L422.5,277.0 L424.0,277.9 L425.5,278.8 L427.0,279.7 L428.5,280.6 L430.0,281.5 L431.5,282.4 L433.0,283.3 L434.5,284.2 L436.0,285.1 L437.5,286.0 L439.0,286.9 L440.5,287.8 L442.0,288.8 L443.5,289.7"/>
<path d="M46.0,155.5 L47.5,154.0 L49.0,152.4 L50.5,150.9 L52.0,149.4 L53.5,147.8 L55.0,146.3 L56.5,145.2 L58.0,144.3 L59.5,143.1 L61.0,141.7 L62.5,140.4 L64.0,139.1 L65.5,137.8 L67.0,136.4 L68.5,135.1 L70.0,133.8 L71.5,132.5 L73.0,131.2 L74.5,129.9 L76.0,128.5 L77.5,127.1 L79.0,125.8 L80.5,124.4 L82.0,123.0 L83.5,121.7 L85.0,120.3 L86.5,119.1 L88.0,117.9 L89.5,116.8 L91.0,115.6 L92.5,114.5 L94.0,113.4 L95.5,112.2 L97.0,111.1 L98.5,109.9 L100.0,108.8 L101.5,107.5 L103.0,106.2 L104.5,105.0 L106.0,103.7 L107.5,102.4 L109.0,101.1 L110.5,100.0 L112.0,98.8 L113.5,97.6 L115.0,96.3 L116.5,95.0 L118.0,93.7 L119.5,92.4 L121.0,91.2 L122.5,90.0 L124.0,88.9 L125.5,87.7 L127.0,86.6 L128.5,85.4 L130.0,84.3 L131.5,83.1 L133.0,81.9 L134.5,80.8 L136.0,79.6 L137.5,78.4 L139.0,77.3 L140.5,76.1 L142.0,74.9 L143.5,73.7 L145.0,72.4 L146.5,71.2 L148.0,70.0 L149.5,68.8 L151.0,67.6 L152.5,66.6 L154.0,65.5 L155.5,64.4 L157.0,63.3 L158.5,62.2 L160.0,61.1 L161.5,60.0 L163.0,59.0 L164.5,58.0 L166.0,57.0 L167.5,56.1 L169.0,55.2 L170.5,54.3 L172.0,53.4 L173.5,52.5 L175.0,51.7 L176.5,50.9 L178.0,50.1 L179.5,49.3 L181.0,48.5 L182.5,47.7 L184.0,47.4 L185.5,47.1 L187.0,46.7 L188.5,46.4 L190.0,46.1 L191.5,45.8 L193.0,45.5 L194.5,45.5 L196.0,45.6 L197.5,45.8 L199.0,46.0 L200.5,46.1 L202.0,46.3 L203.5,46.4 L205.0,46.6 L206.5,47.5 L208.0,48.3 L209.5,49.2 L211.0,50.0 L212.5,50.9 L214.0,51.8 L215.5,52.8 L217.0,53.7 L218.5,54.6 L220.0,55.5 L221.5,57.0 L223.0,58.4 L224.5,59.9 L226.0,61.3 L227.5,62.7 L229.0,64.3 L230.5,65.8 L232.0,67.3 L233.5,68.8 L235.0,70.3 L236.5,71.7 L238.0,73.2 L239.5,74.6"/>
<path d="M46.0,158.4 L47.5,156.8 L49.0,155.3 L50.5,153.7 L52.0,152.2 L53.5,150.6 L55.0,149.1 L56.5,148.0 L58.0,147.1 L59.5,145.9 L61.0,144.6 L62.5,143.2 L64.0,141.9 L65.5,140.5 L67.0,139.2 L68.5,137.8 L70.0,136.5 L71.5,135.1 L73.0,133.8 L74.5,132.5 L76.0,131.1 L77.5,129.7 L79.0,128.4 L80.5,127.0 L82.0,125.6 L83.5,124.2 L85.0,122.9 L86.5,121.6 L88.0,120.4 L89.5,119.3 L91.0,118.1 L92.5,116.9 L94.0,115.7 L95.5,114.5 L97.0,113.4 L98.5,112.2 L100.0,111.0 L101.5,109.7 L103.0,108.4 L104.5,107.1 L106.0,105.8 L107.5,104.5 L109.0,103.2 L110.5,102.0 L112.0,100.9 L113.5,99.7 L115.0,98.4 L116.5,97.2 L118.0,96.0 L119.5,94.7 L121.0,93.5 L122.5,92.4 L124.0,91.2 L125.5,90.0 L127.0,88.9 L128.5,87.7 L130.0,86.5 L131.5,85.4 L133.0,84.2 L134.5,83.0 L136.0,81.9 L137.5,80.7 L139.0,79.5 L140.5,78.4 L142.0,77.1 L143.5,75.9 L145.0,74.7 L146.5,73.5 L148.0,72.3 L149.5,71.1 L151.0,70.0 L152.5,68.9 L154.0,67.8 L155.5,66.8 L157.0,65.7 L158.5,64.6 L160.0,63.6 L161.5,62.5 L163.0,61.5 L164.5,60.4 L166.0,59.5 L167.5,58.6 L169.0,57.7 L170.5,56.8 L172.0,55.9 L173.5,55.0 L175.0,54.2 L176.5,53.4 L178.0,52.5 L179.5,51.7 L181.0,50.9 L182.5,50.1 L184.0,49.7 L185.5,49.4 L187.0,49.1 L188.5,48.8 L190.0,48.4 L191.5,48.1 L193.0,47.8 L194.5,47.8 L196.0,47.9 L197.5,48.1 L199.0,48.3 L200.5,48.4 L202.0,48.6 L203.5,48.8 L205.0,48.9 L206.5,49.8 L208.0,50.6 L209.5,51.4 L211.0,52.3 L212.5,53.1 L214.0,54.0 L215.5,54.8 L217.0,55.7 L218.5,56.6 L220.0,57.5 L221.5,59.0 L223.0,60.4 L224.5,61.9 L226.0,63.3 L227.5,64.8 L229.0,66.3 L230.5,67.8 L232.0,69.3 L233.5,70.8 L235.0,72.3 L236.5,73.7 L238.0,75.2 L239.5,76.6 L241.0,78.1 L242.5,79.6 L244.0,81.3 L245.5,83.0 L247.0,84.9 L248.5,87.2 L250.0,89.6 L251.5,91.9 L253.0,94.2 L254.5,96.1 L256.0,98.1 L257.5,100.3 L259.0,102.6 L260.5,104.8 L262.0,106.9 L263.5,109.1 L265.0,111.2 L266.5,113.2 L268.0,115.2 L269.5,117.3 L271.0,119.0 L272.5,120.7 L274.0,122.5 L275.5,124.2 L277.0,126.0 L278.5,127.7 L280.0,129.4 L281.5,131.6 L283.0,133.8 L284.5,136.1 L286.0,138.5 L287.5,140.8 L289.0,143.0 L290.5,145.1 L292.0,147.3 L293.5,149.4 L295.0,151.6 L296.5,153.8 L298.0,156.2 L299.5,158.5 L301.0,160.6 L302.5,162.7 L304.0,164.8 L305.5,166.8 L307.0,168.9 L308.5,171.0 L310.0,173.1 L311.5,175.3 L313.0,177.5 L314.5,179.5 L316.0,181.0 L317.5,182.6 L319.0,184.2 L320.5,185.8 L322.0,187.5 L323.5,189.1 L325.0,191.0 L326.5,192.8 L328.0,194.7 L329.5,196.3 L331.0,198.0 L332.5,199.7 L334.0,201.3 L335.5,203.0 L337.0,204.7 L338.5,206.4 L340.0,208.1 L341.5,209.7 L343.0,211.4 L344.5,213.0 L346.0,214.7 L347.5,216.3 L349.0,217.9 L350.5,219.6 L352.0,221.3 L353.5,223.2 L355.0,225.1 L356.5,226.7 L358.0,228.3 L359.5,230.0 L361.0,231.6 L362.5,233.2 L364.0,234.9 L365.5,236.5 L367.0,238.2 L368.5,239.8 L370.0,241.5 L371.5,243.1 L373.0,244.5 L374.5,245.7 L376.0,247.0 L377.5,248.2 L379.0,249.5 L380.5,250.8 L382.0,252.1 L383.5,253.3 L385.0,254.5 L386.5,255.7 L388.0,256.9 L389.5,258.1 L391.0,259.3 L392.5,260.6 L394.0,261.8 L395.5,263.1 L397.0,264.3 L398.5,265.3 L400.0,266.2 L401.5,267.1 L403.0,268.1 L404.5,269.0 L406.0,269.9 L407.5,270.8 L409.0,271.6 L410.5,272.5 L412.0,273.4 L413.5,274.3 L415.0,275.2 L416.5,276.0 L418.0,276.9 L419.5,277.8 L421.0,278.7 L422.5,279.6 L424.0,280.4 L425.5,281.3 L427.0,282.2 L428.5,283.1 L430.0,284.0 L431.5,284.8 L433.0,285.7 L434.5,286.6 L436.0,287.5 L437.5,288.4 L439.0,289.3"/>
<path d="M46.0,160.9 L47.5,159.3 L49.0,157.8 L50.5,156.2 L52.0,154.6 L53.5,153.1 L55.0,151.5 L56.5,150.5 L58.0,149.6 L59.5,148.4 L61.0,147.0 L62.5,145.7 L64.0,144.3 L65.5,142.9 L67.0,141.6 L68.5,140.2 L70.0,138.8 L71.5,137.5 L73.0,136.1 L74.5,134.7 L76.0,133.4 L77.5,132.0 L79.0,130.6 L80.5,129.3 L82.0,127.9 L83.5,126.5 L85.0,125.1 L86.5,123.8 L88.0,122.6 L89.5,121.4 L91.0,120.2 L92.5,119.0 L94.0,117.8 L95.5,116.6 L97.0,115.3 L98.5,114.1 L100.0,112.9 L101.5,111.6 L103.0,110.3 L104.5,109.0 L106.0,107.6 L107.5,106.3 L109.0,105.0 L110.5,103.9 L112.0,102.7 L113.5,101.5 L115.0,100.3 L116.5,99.1 L118.0,97.9 L119.5,96.7 L121.0,95.6 L122.5,94.4 L124.0,93.2 L125.5,92.0 L127.0,90.9 L128.5,89.7 L130.0,88.5 L131.5,87.4 L133.0,86.2 L134.5,85.0 L136.0,83.8 L137.5,82.7 L139.0,81.5 L140.5,80.3 L142.0,79.1 L143.5,77.9 L145.0,76.7 L146.5,75.5 L148.0,74.3 L149.5,73.1 L151.0,72.0 L152.5,70.9 L154.0,69.9 L155.5,68.9 L157.0,67.8 L158.5,66.8 L160.0,65.7 L161.5,64.7 L163.0,63.7 L164.5,62.6 L166.0,61.7 L167.5,60.8 L169.0,59.9 L170.5,59.0 L172.0,58.1 L173.5,57.3 L175.0,56.4 L176.5,55.5 L178.0,54.7 L179.5,53.9 L181.0,53.0 L182.5,52.2 L184.0,51.8 L185.5,51.5 L187.0,51.2 L188.5,50.9 L190.0,50.5 L191.5,50.2 L193.0,49.9 L194.5,49.8 L196.0,50.0 L197.5,50.1 L199.0,50.3 L200.5,50.5 L202.0,50.6 L203.5,50.8 L205.0,51.0 L206.5,51.8 L208.0,52.6 L209.5,53.4 L211.0,54.2 L212.5,55.0 L214.0,55.9 L215.5,56.7 L217.0,57.6 L218.5,58.4 L220.0,59.3 L221.5,60.7 L223.0,62.2 L224.5,63.7 L226.0,65.1 L227.5,66.6 L229.0,68.1 L230.5,69.6 L232.0,71.1 L233.5,72.6 L235.0,74.0 L236.5,75.5 L238.0,77.0 L239.5,78.4 L241.0,79.9 L242.5,81.4 L244.0,82.9 L245.5,84.4 L247.0,86.4 L248.5,88.8 L250.0,91.2 L251.5,93.6 L253.0,95.9 L254.5,98.0 L256.0,100.0 L257.5,102.1 L259.0,104.2 L260.5,106.3 L262.0,108.5 L263.5,110.6 L265.0,112.7 L266.5,114.8 L268.0,116.9 L269.5,119.0 L271.0,120.8 L272.5,122.5 L274.0,124.1 L275.5,125.8 L277.0,127.4 L278.5,129.1 L280.0,130.7 L281.5,132.9 L283.0,135.2 L284.5,137.4 L286.0,139.7 L287.5,142.0 L289.0,144.2 L290.5,146.4 L292.0,148.7 L293.5,150.9 L295.0,153.1 L296.5,155.3 L298.0,157.6 L299.5,159.8 L301.0,161.9 L302.5,164.1 L304.0,166.2 L305.5,168.3 L307.0,170.4 L308.5,172.6 L310.0,174.8 L311.5,177.0 L313.0,179.2 L314.5,181.1 L316.0,182.6 L317.5,184.2 L319.0,185.8 L320.5,187.4 L322.0,189.1 L323.5,190.7 L325.0,192.5 L326.5,194.2 L328.0,195.9 L329.5,197.6 L331.0,199.3 L332.5,201.0 L334.0,202.7 L335.5,204.4 L337.0,206.0 L338.5,207.7 L340.0,209.4 L341.5,211.1 L343.0,212.8 L344.5,214.4 L346.0,216.1 L347.5,217.8 L349.0,219.5 L350.5,221.1 L352.0,222.8 L353.5,224.6 L355.0,226.3 L356.5,228.0 L358.0,229.7 L359.5,231.3 L361.0,233.0 L362.5,234.7 L364.0,236.4 L365.5,238.0 L367.0,239.7 L368.5,241.4 L370.0,243.1 L371.5,244.7 L373.0,246.1 L374.5,247.4 L376.0,248.6 L377.5,249.8 L379.0,251.1 L380.5,252.3 L382.0,253.6 L383.5,254.8 L385.0,256.0 L386.5,257.2 L388.0,258.4 L389.5,259.7 L391.0,260.9 L392.5,262.1 L394.0,263.4 L395.5,264.6 L397.0,265.9 L398.5,266.7 L400.0,267.6 L401.5,268.5 L403.0,269.4 L404.5,270.3 L406.0,271.1 L407.5,272.0 L409.0,272.9 L410.5,273.7 L412.0,274.6 L413.5,275.5 L415.0,276.4 L416.5,277.2 L418.0,278.1 L419.5,279.0 L421.0,279.8 L422.5,280.7 L424.0,281.6 L425.5,282.4 L427.0,283.3 L428.5,284.2 L430.0,285.0 L431.5,285.9 L433.0,286.8 L434.5,287.7 L436.0,288.5 L437.5,289.4"/>
<path d="M46.0,168.0 L47.5,166.6 L49.0,165.1 L50.5,163.7 L52.0,162.2 L53.5,160.8 L55.0,159.4 L56.5,158.4 L58.0,157.6 L59.5,156.4 L61.0,155.2 L62.5,153.9 L64.0,152.6 L65.5,151.3 L67.0,150.1 L68.5,148.8 L70.0,147.5 L71.5,146.3 L73.0,145.0 L74.5,143.8 L76.0,142.5 L77.5,141.3 L79.0,140.0 L80.5,138.7 L82.0,137.5 L83.5,136.2 L85.0,135.0 L86.5,133.8 L88.0,132.6 L89.5,131.5 L91.0,130.4 L92.5,129.2 L94.0,128.1 L95.5,127.0 L97.0,125.9 L98.5,124.8 L100.0,123.6 L101.5,122.4 L103.0,121.2 L104.5,120.0 L106.0,118.9 L107.5,117.7 L109.0,116.5 L110.5,115.4 L112.0,114.3 L113.5,113.3 L115.0,112.2 L116.5,111.1 L118.0,110.1 L119.5,109.0 L121.0,108.0 L122.5,106.9 L124.0,105.9 L125.5,104.9 L127.0,103.8 L128.5,102.8 L130.0,101.7 L131.5,100.7 L133.0,99.6 L134.5,98.6 L136.0,97.5 L137.5,96.5 L139.0,95.4 L140.5,94.3 L142.0,93.2 L143.5,92.2 L145.0,91.1 L146.5,90.0 L148.0,88.9 L149.5,87.8 L151.0,86.9 L152.5,85.9 L154.0,85.0 L155.5,84.1 L157.0,83.2 L158.5,82.2 L160.0,81.3 L161.5,80.4 L163.0,79.4 L164.5,78.5 L166.0,77.7 L167.5,76.9 L169.0,76.1 L170.5,75.4 L172.0,74.6 L173.5,73.8 L175.0,73.1 L176.5,72.3 L178.0,71.5 L179.5,70.7 L181.0,70.0 L182.5,69.2 L184.0,68.9 L185.5,68.6 L187.0,68.3 L188.5,68.0 L190.0,67.7 L191.5,67.5 L193.0,67.2 L194.5,67.1 L196.0,67.2 L197.5,67.2 L199.0,67.4 L200.5,67.5 L202.0,67.6 L203.5,67.7 L205.0,67.8 L206.5,68.4 L208.0,69.0 L209.5,69.8 L211.0,70.6 L212.5,71.3 L214.0,72.1 L215.5,72.8 L217.0,73.6 L218.5,74.4 L220.0,75.1 L221.5,76.4 L223.0,77.7 L224.5,79.0 L226.0,80.4 L227.5,81.8 L229.0,83.2 L230.5,84.6 L232.0,85.9 L233.5,87.3 L235.0,88.7 L236.5,90.1 L238.0,91.6 L239.5,93.0 L241.0,94.5 L242.5,95.9 L244.0,97.4 L245.5,98.9 L247.0,100.7 L248.5,103.0 L250.0,105.2 L251.5,107.5 L253.0,109.6 L254.5,111.5 L256.0,113.4 L257.5,115.3 L259.0,117.2 L260.5,119.2 L262.0,121.2 L263.5,123.3 L265.0,125.4 L266.5,127.5 L268.0,129.5 L269.5,131.6 L271.0,133.5 L272.5,135.2 L274.0,136.9 L275.5,138.6 L277.0,140.4 L278.5,142.0 L280.0,143.7 L281.5,145.8 L283.0,148.0 L284.5,150.1 L286.0,152.3 L287.5,154.4 L289.0,156.6 L290.5,158.7 L292.0,160.9 L293.5,163.0 L295.0,165.2 L296.5,167.3 L298.0,169.5 L299.5,171.5 L301.0,173.6 L302.5,175.7 L304.0,177.8 L305.5,179.9 L307.0,182.0 L308.5,184.1 L310.0,186.2 L311.5,188.2 L313.0,190.3 L314.5,192.2 L316.0,193.8 L317.5,195.4 L319.0,197.0 L320.5,198.6 L322.0,200.3 L323.5,202.0 L325.0,203.7 L326.5,205.4 L328.0,207.1 L329.5,208.9 L331.0,210.6 L332.5,212.3 L334.0,214.0 L335.5,215.6 L337.0,217.3 L338.5,218.9 L340.0,220.4 L341.5,222.0 L343.0,223.5 L344.5,225.1 L346.0,226.6 L347.5,228.2 L349.0,229.8 L350.5,231.3 L352.0,232.9 L353.5,234.4 L355.0,236.0 L356.5,237.6 L358.0,239.1 L359.5,240.7 L361.0,242.3 L362.5,243.8 L364.0,245.4 L365.5,247.0 L367.0,248.5 L368.5,250.1 L370.0,251.7 L371.5,253.3 L373.0,254.6 L374.5,255.8 L376.0,257.0 L377.5,258.2 L379.0,259.4 L380.5,260.6 L382.0,261.8 L383.5,263.0 L385.0,264.2 L386.5,265.4 L388.0,266.7 L389.5,267.9 L391.0,269.1 L392.5,270.3 L394.0,271.5 L395.5,272.8 L397.0,274.0 L398.5,275.0 L400.0,276.0 L401.5,276.9 L403.0,277.9 L404.5,278.8 L406.0,279.8 L407.5,280.7 L409.0,281.7 L410.5,282.6 L412.0,283.6 L413.5,284.5 L415.0,285.5 L416.5,286.5 L418.0,287.4 L419.5,288.4 L421.0,289.3"/>
<path d="M46.0,172.3 L47.5,170.9 L49.0,169.6 L50.5,168.2 L52.0,166.9 L53.5,165.6 L55.0,164.2 L56.5,163.2 L58.0,162.4 L59.5,161.3 L61.0,160.1 L62.5,158.9 L64.0,157.7 L65.5,156.5 L67.0,155.3 L68.5,154.1 L70.0,152.9 L71.5,151.7 L73.0,150.5 L74.5,149.3 L76.0,148.1 L77.5,146.9 L79.0,145.7 L80.5,144.6 L82.0,143.4 L83.5,142.2 L85.0,141.0 L86.5,139.9 L88.0,138.8 L89.5,137.7 L91.0,136.6 L92.5,135.5 L94.0,134.5 L95.5,133.4 L97.0,132.4 L98.5,131.3 L100.0,130.2 L101.5,129.1 L103.0,128.0 L104.5,126.9 L106.0,125.8 L107.5,124.6 L109.0,123.5 L110.5,122.5 L112.0,121.5 L113.5,120.5 L115.0,119.5 L116.5,118.5 L118.0,117.5 L119.5,116.5 L121.0,115.5 L122.5,114.6 L124.0,113.6 L125.5,112.6 L127.0,111.6 L128.5,110.7 L130.0,109.7 L131.5,108.7 L133.0,107.7 L134.5,106.8 L136.0,105.8 L137.5,104.8 L139.0,103.8 L140.5,102.8 L142.0,101.7 L143.5,100.7 L145.0,99.7 L146.5,98.7 L148.0,97.7 L149.5,96.6 L151.0,95.7 L152.5,94.8 L154.0,93.9 L155.5,93.1 L157.0,92.2 L158.5,91.3 L160.0,90.4 L161.5,89.5 L163.0,88.7 L164.5,87.8 L166.0,87.0 L167.5,86.3 L169.0,85.6 L170.5,84.8 L172.0,84.1 L173.5,83.4 L175.0,82.7 L176.5,82.0 L178.0,81.3 L179.5,80.5 L181.0,79.8 L182.5,79.1 L184.0,78.8 L185.5,78.6 L187.0,78.3 L188.5,78.1 L190.0,77.8 L191.5,77.5 L193.0,77.3 L194.5,77.2 L196.0,77.2 L197.5,77.2 L199.0,77.3 L200.5,77.4 L202.0,77.5 L203.5,77.6 L205.0,77.7 L206.5,78.1 L208.0,78.7 L209.5,79.4 L211.0,80.1 L212.5,80.9 L214.0,81.6 L215.5,82.4 L217.0,83.1 L218.5,83.8 L220.0,84.6 L221.5,85.7 L223.0,86.9 L224.5,88.2 L226.0,89.6 L227.5,90.9 L229.0,92.3 L230.5,93.6 L232.0,94.9 L233.5,96.3 L235.0,97.6 L236.5,99.0 L238.0,100.5 L239.5,102.0 L241.0,103.4 L242.5,104.9 L244.0,106.4 L245.5,107.9 L247.0,109.7 L248.5,111.8 L250.0,114.0 L251.5,116.0 L253.0,118.0 L254.5,119.8 L256.0,121.6 L257.5,123.5 L259.0,125.3 L260.5,127.2 L262.0,129.2 L263.5,131.2 L265.0,133.3 L266.5,135.3 L268.0,137.3 L269.5,139.4 L271.0,141.3 L272.5,143.1 L274.0,144.9 L275.5,146.7 L277.0,148.5 L278.5,150.2 L280.0,151.9 L281.5,154.0 L283.0,156.1 L284.5,158.2 L286.0,160.3 L287.5,162.4 L289.0,164.5 L290.5,166.5 L292.0,168.6 L293.5,170.7 L295.0,172.8 L296.5,174.9 L298.0,177.0 L299.5,179.0 L301.0,181.0 L302.5,183.1 L304.0,185.1 L305.5,187.2 L307.0,189.2 L308.5,191.2 L310.0,193.3 L311.5,195.3 L313.0,197.3 L314.5,199.1 L316.0,200.7 L317.5,202.4 L319.0,204.0 L320.5,205.6 L322.0,207.3 L323.5,209.0 L325.0,210.7 L326.5,212.5 L328.0,214.2 L329.5,216.0 L331.0,217.8 L332.5,219.5 L334.0,221.2 L335.5,222.8 L337.0,224.5 L338.5,226.0 L340.0,227.5 L341.5,229.0 L343.0,230.5 L344.5,232.0 L346.0,233.5 L347.5,234.9 L349.0,236.4 L350.5,237.9 L352.0,239.4 L353.5,240.9 L355.0,242.4 L356.5,243.9 L358.0,245.4 L359.5,246.9 L361.0,248.4 L362.5,249.9 L364.0,251.5 L365.5,253.0 L367.0,254.5 L368.5,256.0 L370.0,257.5 L371.5,259.0 L373.0,260.3 L374.5,261.5 L376.0,262.7 L377.5,264.0 L379.0,265.2 L380.5,266.4 L382.0,267.6 L383.5,268.8 L385.0,270.0 L386.5,271.2 L388.0,272.4 L389.5,273.6 L391.0,274.9 L392.5,276.1 L394.0,277.3 L395.5,278.6 L397.0,279.9 L398.5,280.9 L400.0,282.0 L401.5,283.0 L403.0,284.0 L404.5,285.0 L406.0,286.1 L407.5,287.1 L409.0,288.1 L410.5,289.1"/>
<path d="M46.0,175.9 L47.5,174.6 L49.0,173.3 L50.5,172.0 L52.0,170.8 L53.5,169.5 L55.0,168.2 L56.5,167.2 L58.0,166.4 L59.5,165.3 L61.0,164.2 L62.5,163.0 L64.0,161.9 L65.5,160.7 L67.0,159.5 L68.5,158.4 L70.0,157.3 L71.5,156.1 L73.0,155.0 L74.5,153.8 L76.0,152.7 L77.5,151.5 L79.0,150.4 L80.5,149.3 L82.0,148.1 L83.5,147.0 L85.0,145.9 L86.5,144.8 L88.0,143.7 L89.5,142.6 L91.0,141.6 L92.5,140.6 L94.0,139.6 L95.5,138.5 L97.0,137.5 L98.5,136.5 L100.0,135.5 L101.5,134.4 L103.0,133.4 L104.5,132.3 L106.0,131.2 L107.5,130.2 L109.0,129.1 L110.5,128.1 L112.0,127.1 L113.5,126.2 L115.0,125.2 L116.5,124.2 L118.0,123.3 L119.5,122.4 L121.0,121.4 L122.5,120.5 L124.0,119.6 L125.5,118.7 L127.0,117.7 L128.5,116.8 L130.0,115.9 L131.5,114.9 L133.0,114.0 L134.5,113.1 L136.0,112.2 L137.5,111.2 L139.0,110.3 L140.5,109.3 L142.0,108.3 L143.5,107.3 L145.0,106.3 L146.5,105.4 L148.0,104.4 L149.5,103.4 L151.0,102.5 L152.5,101.7 L154.0,100.8 L155.5,100.0 L157.0,99.1 L158.5,98.3 L160.0,97.5 L161.5,96.6 L163.0,95.8 L164.5,94.9 L166.0,94.2 L167.5,93.5 L169.0,92.8 L170.5,92.2 L172.0,91.5 L173.5,90.8 L175.0,90.1 L176.5,89.4 L178.0,88.8 L179.5,88.1 L181.0,87.4 L182.5,86.7 L184.0,86.5 L185.5,86.3 L187.0,86.0 L188.5,85.8 L190.0,85.5 L191.5,85.3 L193.0,85.1 L194.5,84.9 L196.0,85.0 L197.5,85.0 L199.0,85.0 L200.5,85.1 L202.0,85.2 L203.5,85.2 L205.0,85.3 L206.5,85.6 L208.0,86.1 L209.5,86.8 L211.0,87.6 L212.5,88.3 L214.0,89.0 L215.5,89.7 L217.0,90.4 L218.5,91.2 L220.0,91.9 L221.5,92.9 L223.0,94.1 L224.5,95.4 L226.0,96.7 L227.5,98.0 L229.0,99.3 L230.5,100.6 L232.0,101.9 L233.5,103.2 L235.0,104.6 L236.5,105.9 L238.0,107.4 L239.5,108.9 L241.0,110.4 L242.5,112.0 L244.0,113.5 L245.5,115.0 L247.0,116.7 L248.5,118.8 L250.0,120.8 L251.5,122.7 L253.0,124.6 L254.5,126.4 L256.0,128.1 L257.5,129.9 L259.0,131.6 L260.5,133.4 L262.0,135.5 L263.5,137.5 L265.0,139.5 L266.5,141.5 L268.0,143.5 L269.5,145.6 L271.0,147.5 L272.5,149.4 L274.0,151.2 L275.5,153.1 L277.0,154.9 L278.5,156.7 L280.0,158.4 L281.5,160.5 L283.0,162.5 L284.5,164.6 L286.0,166.6 L287.5,168.6 L289.0,170.7 L290.5,172.7 L292.0,174.8 L293.5,176.8 L295.0,178.9 L296.5,180.9 L298.0,182.9 L299.5,184.9 L301.0,186.9 L302.5,188.9 L304.0,190.9 L305.5,193.0 L307.0,195.0 L308.5,197.0 L310.0,198.9 L311.5,200.9 L313.0,202.8 L314.5,204.6 L316.0,206.3 L317.5,207.9 L319.0,209.5 L320.5,211.2 L322.0,212.9 L323.5,214.6 L325.0,216.3 L326.5,218.1 L328.0,219.9 L329.5,221.7 L331.0,223.5 L332.5,225.2 L334.0,226.9 L335.5,228.6 L337.0,230.2 L338.5,231.7 L340.0,233.2 L341.5,234.6 L343.0,236.1 L344.5,237.6 L346.0,239.0 L347.5,240.5 L349.0,241.9 L350.5,243.4 L352.0,244.8 L353.5,246.3 L355.0,247.8 L356.5,249.2 L358.0,250.7 L359.5,252.2 L361.0,253.6 L362.5,255.1 L364.0,256.6 L365.5,258.0 L367.0,259.5 L368.5,261.0 L370.0,262.4 L371.5,263.9 L373.0,265.2 L374.5,266.5 L376.0,267.7 L377.5,268.9 L379.0,270.1 L380.5,271.4 L382.0,272.6 L383.5,273.8 L385.0,275.1 L386.5,276.3 L388.0,277.5 L389.5,278.7 L391.0,280.0 L392.5,281.2 L394.0,282.5 L395.5,283.8 L397.0,285.1 L398.5,286.2 L400.0,287.3 L401.5,288.3 L403.0,289.4"/>
<path d="M46.0,179.0 L47.5,177.8 L49.0,176.6 L50.5,175.4 L52.0,174.2 L53.5,173.0 L55.0,171.8 L56.5,170.8 L58.0,169.9 L59.5,168.9 L61.0,167.8 L62.5,166.6 L64.0,165.5 L65.5,164.4 L67.0,163.3 L68.5,162.2 L70.0,161.1 L71.5,160.0 L73.0,158.9 L74.5,157.8 L76.0,156.7 L77.5,155.6 L79.0,154.5 L80.5,153.4 L82.0,152.3 L83.5,151.2 L85.0,150.1 L86.5,149.0 L88.0,148.0 L89.5,146.9 L91.0,145.9 L92.5,144.9 L94.0,144.0 L95.5,143.0 L97.0,142.0 L98.5,141.0 L100.0,140.0 L101.5,139.0 L103.0,138.0 L104.5,136.9 L106.0,135.9 L107.5,134.9 L109.0,133.9 L110.5,132.9 L112.0,132.0 L113.5,131.0 L115.0,130.0 L116.5,129.1 L118.0,128.2 L119.5,127.3 L121.0,126.4 L122.5,125.5 L124.0,124.6 L125.5,123.8 L127.0,122.9 L128.5,122.0 L130.0,121.1 L131.5,120.2 L133.0,119.3 L134.5,118.4 L136.0,117.5 L137.5,116.6 L139.0,115.7 L140.5,114.7 L142.0,113.8 L143.5,112.8 L145.0,111.9 L146.5,111.0 L148.0,110.0 L149.5,109.1 L151.0,108.2 L152.5,107.4 L154.0,106.6 L155.5,105.8 L157.0,105.0 L158.5,104.2 L160.0,103.4 L161.5,102.5 L163.0,101.7 L164.5,100.9 L166.0,100.2 L167.5,99.6 L169.0,98.9 L170.5,98.3 L172.0,97.6 L173.5,97.0 L175.0,96.3 L176.5,95.7 L178.0,95.1 L179.5,94.4 L181.0,93.8 L182.5,93.1 L184.0,92.9 L185.5,92.7 L187.0,92.5 L188.5,92.3 L190.0,92.0 L191.5,91.8 L193.0,91.6 L194.5,91.5 L196.0,91.4 L197.5,91.4 L199.0,91.5 L200.5,91.5 L202.0,91.6 L203.5,91.6 L205.0,91.6 L206.5,91.9 L208.0,92.3 L209.5,93.1 L211.0,93.8 L212.5,94.5 L214.0,95.2 L215.5,95.9 L217.0,96.6 L218.5,97.4 L220.0,98.1 L221.5,99.0 L223.0,100.1 L224.5,101.4 L226.0,102.7 L227.5,104.0 L229.0,105.3 L230.5,106.6 L232.0,107.8 L233.5,109.1 L235.0,110.4 L236.5,111.8 L238.0,113.3 L239.5,114.8 L241.0,116.4 L242.5,117.9 L244.0,119.4 L245.5,121.0 L247.0,122.7 L248.5,124.6 L250.0,126.6 L251.5,128.4 L253.0,130.2 L254.5,131.9 L256.0,133.6 L257.5,135.3 L259.0,137.0 L260.5,138.8 L262.0,140.8 L263.5,142.8 L265.0,144.8 L266.5,146.8 L268.0,148.8 L269.5,150.8 L271.0,152.8 L272.5,154.7 L274.0,156.6 L275.5,158.5 L277.0,160.4 L278.5,162.2 L280.0,164.0 L281.5,166.0 L283.0,168.0 L284.5,170.0 L286.0,172.0 L287.5,174.0 L289.0,176.0 L290.5,178.0 L292.0,180.0 L293.5,182.0 L295.0,184.0 L296.5,186.1 L298.0,188.0 L299.5,190.0 L301.0,192.0 L302.5,194.0 L304.0,196.0 L305.5,197.9 L307.0,199.9 L308.5,201.9 L310.0,203.8 L311.5,205.7 L313.0,207.6 L314.5,209.4 L316.0,211.0 L317.5,212.7 L319.0,214.3 L320.5,216.0 L322.0,217.7 L323.5,219.4 L325.0,221.1 L326.5,222.9 L328.0,224.7 L329.5,226.5 L331.0,228.4 L332.5,230.1 L334.0,231.8 L335.5,233.5 L337.0,235.2 L338.5,236.7 L340.0,238.2 L341.5,239.6 L343.0,241.0 L344.5,242.4 L346.0,243.9 L347.5,245.3 L349.0,246.7 L350.5,248.2 L352.0,249.6 L353.5,251.0 L355.0,252.5 L356.5,253.9 L358.0,255.4 L359.5,256.8 L361.0,258.2 L362.5,259.7 L364.0,261.1 L365.5,262.6 L367.0,264.0 L368.5,265.5 L370.0,266.9 L371.5,268.4 L373.0,269.7 L374.5,270.9 L376.0,272.2 L377.5,273.4 L379.0,274.7 L380.5,275.9 L382.0,277.2 L383.5,278.4 L385.0,279.7 L386.5,280.9 L388.0,282.2 L389.5,283.4 L391.0,284.7 L392.5,285.9 L394.0,287.2 L395.5,288.6 L397.0,289.9"/>
<path d="M46.0,182.0 L47.5,180.8 L49.0,179.7 L50.5,178.5 L52.0,177.4 L53.5,176.2 L55.0,175.0 L56.5,174.1 L58.0,173.2 L59.5,172.1 L61.0,171.1 L62.5,170.0 L64.0,168.9 L65.5,167.8 L67.0,166.7 L68.5,165.7 L70.0,164.6 L71.5,163.5 L73.0,162.4 L74.5,161.4 L76.0,160.3 L77.5,159.2 L79.0,158.2 L80.5,157.1 L82.0,156.0 L83.5,155.0 L85.0,153.9 L86.5,152.9 L88.0,151.8 L89.5,150.8 L91.0,149.8 L92.5,148.9 L94.0,147.9 L95.5,146.9 L97.0,146.0 L98.5,145.0 L100.0,144.1 L101.5,143.1 L103.0,142.1 L104.5,141.1 L106.0,140.1 L107.5,139.1 L109.0,138.1 L110.5,137.2 L112.0,136.2 L113.5,135.3 L115.0,134.4 L116.5,133.5 L118.0,132.6 L119.5,131.7 L121.0,130.9 L122.5,130.0 L124.0,129.1 L125.5,128.3 L127.0,127.4 L128.5,126.5 L130.0,125.7 L131.5,124.8 L133.0,123.9 L134.5,123.1 L136.0,122.2 L137.5,121.3 L139.0,120.4 L140.5,119.5 L142.0,118.6 L143.5,117.7 L145.0,116.8 L146.5,115.9 L148.0,115.0 L149.5,114.1 L151.0,113.2 L152.5,112.5 L154.0,111.7 L155.5,110.9 L157.0,110.1 L158.5,109.3 L160.0,108.5 L161.5,107.7 L163.0,106.9 L164.5,106.2 L166.0,105.5 L167.5,104.9 L169.0,104.3 L170.5,103.7 L172.0,103.0 L173.5,102.4 L175.0,101.8 L176.5,101.2 L178.0,100.6 L179.5,100.0 L181.0,99.4 L182.5,98.7 L184.0,98.5 L185.5,98.3 L187.0,98.1 L188.5,97.9 L190.0,97.7 L191.5,97.5 L193.0,97.3 L194.5,97.2 L196.0,97.1 L197.5,97.1 L199.0,97.1 L200.5,97.2 L202.0,97.2 L203.5,97.2 L205.0,97.2 L206.5,97.5 L208.0,97.8 L209.5,98.5 L211.0,99.3 L212.5,100.0 L214.0,100.7 L215.5,101.4 L217.0,102.1 L218.5,102.8 L220.0,103.5 L221.5,104.4 L223.0,105.4 L224.5,106.7 L226.0,108.0 L227.5,109.2 L229.0,110.5 L230.5,111.8 L232.0,113.1 L233.5,114.3 L235.0,115.6 L236.5,116.9 L238.0,118.5 L239.5,120.0 L241.0,121.6 L242.5,123.2 L244.0,124.7 L245.5,126.3 L247.0,128.0 L248.5,129.8 L250.0,131.7 L251.5,133.5 L253.0,135.2 L254.5,136.9 L256.0,138.5 L257.5,140.1 L259.0,141.8 L260.5,143.6 L262.0,145.5 L263.5,147.5 L265.0,149.5 L266.5,151.5 L268.0,153.4 L269.5,155.5 L271.0,157.5 L272.5,159.5 L274.0,161.4 L275.5,163.4 L277.0,165.3 L278.5,167.2 L280.0,169.0 L281.5,170.9 L283.0,172.9 L284.5,174.9 L286.0,176.9 L287.5,178.8 L289.0,180.8 L290.5,182.8 L292.0,184.7 L293.5,186.7 L295.0,188.7 L296.5,190.7 L298.0,192.6 L299.5,194.6 L301.0,196.5 L302.5,198.5 L304.0,200.4 L305.5,202.4 L307.0,204.4 L308.5,206.3 L310.0,208.1 L311.5,210.0 L313.0,211.9 L314.5,213.6 L316.0,215.3 L317.5,217.0 L319.0,218.6 L320.5,220.3 L322.0,222.0 L323.5,223.7 L325.0,225.4 L326.5,227.3 L328.0,229.1 L329.5,230.9 L331.0,232.7 L332.5,234.5 L334.0,236.3 L335.5,238.0 L337.0,239.7 L338.5,241.2 L340.0,242.7 L341.5,244.1 L343.0,245.5 L344.5,246.9 L346.0,248.3 L347.5,249.7 L349.0,251.1 L350.5,252.6 L352.0,254.0 L353.5,255.4 L355.0,256.8 L356.5,258.2 L358.0,259.7 L359.5,261.1 L361.0,262.5 L362.5,263.9 L364.0,265.4 L365.5,266.8 L367.0,268.2 L368.5,269.6 L370.0,271.1 L371.5,272.5 L373.0,273.8 L374.5,275.1 L376.0,276.4 L377.5,277.7 L379.0,278.9 L380.5,280.2 L382.0,281.5 L383.5,282.8 L385.0,284.1 L386.5,285.3 L388.0,286.6 L389.5,287.9 L391.0,289.1"/>
<path d="M46.0,184.8 L47.5,183.7 L49.0,182.6 L50.5,181.4 L52.0,180.3 L53.5,179.2 L55.0,178.1 L56.5,177.1 L58.0,176.2 L59.5,175.2 L61.0,174.1 L62.5,173.1 L64.0,172.0 L65.5,171.0 L67.0,169.9 L68.5,168.9 L70.0,167.8 L71.5,166.8 L73.0,165.8 L74.5,164.7 L76.0,163.7 L77.5,162.6 L79.0,161.6 L80.5,160.6 L82.0,159.5 L83.5,158.5 L85.0,157.4 L86.5,156.4 L88.0,155.4 L89.5,154.4 L91.0,153.4 L92.5,152.5 L94.0,151.6 L95.5,150.6 L97.0,149.7 L98.5,148.7 L100.0,147.8 L101.5,146.8 L103.0,145.9 L104.5,144.9 L106.0,143.9 L107.5,143.0 L109.0,142.0 L110.5,141.1 L112.0,140.2 L113.5,139.2 L115.0,138.3 L116.5,137.5 L118.0,136.6 L119.5,135.8 L121.0,134.9 L122.5,134.1 L124.0,133.2 L125.5,132.4 L127.0,131.5 L128.5,130.7 L130.0,129.8 L131.5,129.0 L133.0,128.1 L134.5,127.3 L136.0,126.4 L137.5,125.6 L139.0,124.7 L140.5,123.8 L142.0,123.0 L143.5,122.1 L145.0,121.2 L146.5,120.3 L148.0,119.4 L149.5,118.6 L151.0,117.8 L152.5,117.0 L154.0,116.2 L155.5,115.5 L157.0,114.7 L158.5,114.0 L160.0,113.2 L161.5,112.4 L163.0,111.7 L164.5,110.9 L166.0,110.3 L167.5,109.7 L169.0,109.1 L170.5,108.5 L172.0,107.9 L173.5,107.3 L175.0,106.7 L176.5,106.2 L178.0,105.6 L179.5,105.0 L181.0,104.4 L182.5,103.8 L184.0,103.6 L185.5,103.4 L187.0,103.3 L188.5,103.1 L190.0,102.9 L191.5,102.7 L193.0,102.5 L194.5,102.4 L196.0,102.3 L197.5,102.2 L199.0,102.2 L200.5,102.3 L202.0,102.3 L203.5,102.3 L205.0,102.3 L206.5,102.5 L208.0,102.8 L209.5,103.5 L211.0,104.2 L212.5,104.9 L214.0,105.6 L215.5,106.3 L217.0,107.0 L218.5,107.7 L220.0,108.4 L221.5,109.3 L223.0,110.3 L224.5,111.5 L226.0,112.8 L227.5,114.0 L229.0,115.3 L230.5,116.6 L232.0,117.8 L233.5,119.1 L235.0,120.3 L236.5,121.6 L238.0,123.2 L239.5,124.8 L241.0,126.4 L242.5,128.0 L244.0,129.5 L245.5,131.1 L247.0,132.8 L248.5,134.6 L250.0,136.4 L251.5,138.1 L253.0,139.8 L254.5,141.4 L256.0,143.0 L257.5,144.6 L259.0,146.2 L260.5,147.9 L262.0,149.9 L263.5,151.8 L265.0,153.8 L266.5,155.7 L268.0,157.7 L269.5,159.7 L271.0,161.8 L272.5,163.8 L274.0,165.8 L275.5,167.8 L277.0,169.8 L278.5,171.7 L280.0,173.5 L281.5,175.5 L283.0,177.4 L284.5,179.3 L286.0,181.3 L287.5,183.2 L289.0,185.2 L290.5,187.1 L292.0,189.1 L293.5,191.0 L295.0,193.0 L296.5,194.9 L298.0,196.8 L299.5,198.8 L301.0,200.7 L302.5,202.6 L304.0,204.6 L305.5,206.5 L307.0,208.5 L308.5,210.3 L310.0,212.1 L311.5,214.0 L313.0,215.8 L314.5,217.5 L316.0,219.2 L317.5,220.9 L319.0,222.6 L320.5,224.3 L322.0,226.0 L323.5,227.7 L325.0,229.4 L326.5,231.2 L328.0,233.1 L329.5,234.9 L331.0,236.8 L332.5,238.6 L334.0,240.4 L335.5,242.1 L337.0,243.9 L338.5,245.4 L340.0,246.8 L341.5,248.2 L343.0,249.6 L344.5,251.0 L346.0,252.4 L347.5,253.8 L349.0,255.3 L350.5,256.7 L352.0,258.1 L353.5,259.5 L355.0,260.9 L356.5,262.3 L358.0,263.7 L359.5,265.1 L361.0,266.5 L362.5,268.0 L364.0,269.4 L365.5,270.8 L367.0,272.2 L368.5,273.6 L370.0,275.0 L371.5,276.5 L373.0,277.8 L374.5,279.1 L376.0,280.4 L377.5,281.7 L379.0,283.0 L380.5,284.3 L382.0,285.6 L383.5,286.9 L385.0,288.2 L386.5,289.5"/>
<path d="M46.0,187.4 L47.5,186.4 L49.0,185.3 L50.5,184.2 L52.0,183.2 L53.5,182.1 L55.0,181.0 L56.5,180.1 L58.0,179.1 L59.5,178.1 L61.0,177.1 L62.5,176.1 L64.0,175.0 L65.5,174.0 L67.0,173.0 L68.5,172.0 L70.0,170.9 L71.5,169.9 L73.0,168.9 L74.5,167.9 L76.0,166.9 L77.5,165.8 L79.0,164.8 L80.5,163.8 L82.0,162.8 L83.5,161.8 L85.0,160.8 L86.5,159.8 L88.0,158.8 L89.5,157.8 L91.0,156.8 L92.5,155.9 L94.0,155.0 L95.5,154.0 L97.0,153.1 L98.5,152.2 L100.0,151.3 L101.5,150.3 L103.0,149.4 L104.5,148.5 L106.0,147.5 L107.5,146.6 L109.0,145.6 L110.5,144.7 L112.0,143.8 L113.5,142.9 L115.0,142.0 L116.5,141.1 L118.0,140.3 L119.5,139.5 L121.0,138.6 L122.5,137.8 L124.0,137.0 L125.5,136.1 L127.0,135.3 L128.5,134.5 L130.0,133.7 L131.5,132.8 L133.0,132.0 L134.5,131.2 L136.0,130.4 L137.5,129.5 L139.0,128.7 L140.5,127.8 L142.0,127.0 L143.5,126.1 L145.0,125.3 L146.5,124.4 L148.0,123.6 L149.5,122.7 L151.0,121.9 L152.5,121.2 L154.0,120.5 L155.5,119.7 L157.0,119.0 L158.5,118.2 L160.0,117.5 L161.5,116.8 L163.0,116.0 L164.5,115.3 L166.0,114.7 L167.5,114.1 L169.0,113.5 L170.5,113.0 L172.0,112.4 L173.5,111.9 L175.0,111.3 L176.5,110.7 L178.0,110.2 L179.5,109.6 L181.0,109.1 L182.5,108.5 L184.0,108.3 L185.5,108.1 L187.0,108.0 L188.5,107.8 L190.0,107.6 L191.5,107.4 L193.0,107.3 L194.5,107.1 L196.0,107.0 L197.5,106.9 L199.0,106.9 L200.5,107.0 L202.0,107.0 L203.5,107.0 L205.0,107.0 L206.5,107.1 L208.0,107.4 L209.5,108.1 L211.0,108.8 L212.5,109.5 L214.0,110.2 L215.5,110.9 L217.0,111.6 L218.5,112.3 L220.0,113.0 L221.5,113.8 L223.0,114.7 L224.5,116.0 L226.0,117.2 L227.5,118.5 L229.0,119.7 L230.5,121.0 L232.0,122.2 L233.5,123.5 L235.0,124.7 L236.5,126.0 L238.0,127.6 L239.5,129.2 L241.0,130.8 L242.5,132.4 L244.0,134.0 L245.5,135.6 L247.0,137.3 L248.5,139.0 L250.0,140.7 L251.5,142.4 L253.0,144.0 L254.5,145.5 L256.0,147.1 L257.5,148.7 L259.0,150.2 L260.5,151.9 L262.0,153.9 L263.5,155.8 L265.0,157.8 L266.5,159.7 L268.0,161.7 L269.5,163.7 L271.0,165.8 L272.5,167.9 L274.0,169.9 L275.5,172.0 L277.0,174.0 L278.5,175.9 L280.0,177.8 L281.5,179.7 L283.0,181.6 L284.5,183.5 L286.0,185.4 L287.5,187.4 L289.0,189.3 L290.5,191.2 L292.0,193.1 L293.5,195.0 L295.0,197.0 L296.5,198.9 L298.0,200.8 L299.5,202.7 L301.0,204.6 L302.5,206.5 L304.0,208.4 L305.5,210.4 L307.0,212.3 L308.5,214.1 L310.0,215.9 L311.5,217.7 L313.0,219.5 L314.5,221.2 L316.0,222.9 L317.5,224.6 L319.0,226.3 L320.5,228.0 L322.0,229.7 L323.5,231.4 L325.0,233.1 L326.5,235.0 L328.0,236.8 L329.5,238.7 L331.0,240.5 L332.5,242.4 L334.0,244.2 L335.5,246.0 L337.0,247.8 L338.5,249.3 L340.0,250.7 L341.5,252.1 L343.0,253.5 L344.5,254.9 L346.0,256.3 L347.5,257.7 L349.0,259.2 L350.5,260.6 L352.0,262.0 L353.5,263.4 L355.0,264.8 L356.5,266.2 L358.0,267.6 L359.5,269.0 L361.0,270.4 L362.5,271.8 L364.0,273.2 L365.5,274.6 L367.0,276.0 L368.5,277.4 L370.0,278.8 L371.5,280.3 L373.0,281.6 L374.5,283.0 L376.0,284.3 L377.5,285.6 L379.0,287.0 L380.5,288.3 L382.0,289.6"/>
<path d="M46.0,190.0 L47.5,189.0 L49.0,188.0 L50.5,186.9 L52.0,185.9 L53.5,184.9 L55.0,183.9 L56.5,182.9 L58.0,181.9 L59.5,180.9 L61.0,179.9 L62.5,178.9 L64.0,177.9 L65.5,176.9 L67.0,175.9 L68.5,174.9 L70.0,173.9 L71.5,172.9 L73.0,171.9 L74.5,170.9 L76.0,169.9 L77.5,168.9 L79.0,167.9 L80.5,166.9 L82.0,165.9 L83.5,164.9 L85.0,163.9 L86.5,163.0 L88.0,162.0 L89.5,161.0 L91.0,160.1 L92.5,159.1 L94.0,158.2 L95.5,157.3 L97.0,156.4 L98.5,155.5 L100.0,154.6 L101.5,153.7 L103.0,152.7 L104.5,151.8 L106.0,150.9 L107.5,150.0 L109.0,149.1 L110.5,148.2 L112.0,147.3 L113.5,146.4 L115.0,145.4 L116.5,144.6 L118.0,143.8 L119.5,143.0 L121.0,142.2 L122.5,141.3 L124.0,140.5 L125.5,139.7 L127.0,138.9 L128.5,138.1 L130.0,137.3 L131.5,136.4 L133.0,135.6 L134.5,134.8 L136.0,134.0 L137.5,133.2 L139.0,132.4 L140.5,131.5 L142.0,130.7 L143.5,129.9 L145.0,129.1 L146.5,128.2 L148.0,127.4 L149.5,126.6 L151.0,125.8 L152.5,125.1 L154.0,124.4 L155.5,123.7 L157.0,123.0 L158.5,122.2 L160.0,121.5 L161.5,120.8 L163.0,120.1 L164.5,119.4 L166.0,118.8 L167.5,118.2 L169.0,117.7 L170.5,117.2 L172.0,116.6 L173.5,116.1 L175.0,115.5 L176.5,115.0 L178.0,114.5 L179.5,113.9 L181.0,113.4 L182.5,112.9 L184.0,112.7 L185.5,112.5 L187.0,112.4 L188.5,112.2 L190.0,112.1 L191.5,111.9 L193.0,111.7 L194.5,111.6 L196.0,111.5 L197.5,111.3 L199.0,111.3 L200.5,111.3 L202.0,111.4 L203.5,111.4 L205.0,111.4 L206.5,111.4 L208.0,111.7 L209.5,112.4 L211.0,113.1 L212.5,113.8 L214.0,114.5 L215.5,115.2 L217.0,115.9 L218.5,116.6 L220.0,117.3 L221.5,118.0 L223.0,118.9 L224.5,120.2 L226.0,121.4 L227.5,122.6 L229.0,123.9 L230.5,125.1 L232.0,126.3 L233.5,127.6 L235.0,128.8 L236.5,130.1 L238.0,131.7 L239.5,133.4 L241.0,135.0 L242.5,136.6 L244.0,138.2 L245.5,139.8 L247.0,141.5 L248.5,143.2 L250.0,144.8 L251.5,146.4 L253.0,148.0 L254.5,149.5 L256.0,151.0 L257.5,152.6 L259.0,154.1 L260.5,155.8 L262.0,157.7 L263.5,159.6 L265.0,161.6 L266.5,163.5 L268.0,165.4 L269.5,167.5 L271.0,169.6 L272.5,171.7 L274.0,173.8 L275.5,175.9 L277.0,178.0 L278.5,179.9 L280.0,181.8 L281.5,183.7 L283.0,185.6 L284.5,187.5 L286.0,189.4 L287.5,191.3 L289.0,193.2 L290.5,195.1 L292.0,197.0 L293.5,198.9 L295.0,200.8 L296.5,202.6 L298.0,204.5 L299.5,206.4 L301.0,208.3 L302.5,210.2 L304.0,212.1 L305.5,214.0 L307.0,215.9 L308.5,217.7 L310.0,219.5 L311.5,221.2 L313.0,223.0 L314.5,224.7 L316.0,226.4 L317.5,228.1 L319.0,229.8 L320.5,231.5 L322.0,233.2 L323.5,234.9 L325.0,236.6 L326.5,238.5 L328.0,240.4 L329.5,242.3 L331.0,244.1 L332.5,246.0 L334.0,247.8 L335.5,249.7 L337.0,251.5 L338.5,253.1 L340.0,254.5 L341.5,255.9 L343.0,257.3 L344.5,258.7 L346.0,260.1 L347.5,261.5 L349.0,262.9 L350.5,264.3 L352.0,265.7 L353.5,267.1 L355.0,268.5 L356.5,269.9 L358.0,271.3 L359.5,272.7 L361.0,274.1 L362.5,275.5 L364.0,276.9 L365.5,278.3 L367.0,279.7 L368.5,281.1 L370.0,282.5 L371.5,283.9 L373.0,285.3 L374.5,286.7 L376.0,288.1 L377.5,289.4"/>
<path d="M46.0,204.4 L47.5,203.6 L49.0,202.8 L50.5,201.9 L52.0,201.1 L53.5,200.2 L55.0,199.4 L56.5,198.6 L58.0,197.7 L59.5,196.9 L61.0,196.0 L62.5,195.2 L64.0,194.4 L65.5,193.5 L67.0,192.7 L68.5,191.9 L70.0,191.1 L71.5,190.3 L73.0,189.4 L74.5,188.6 L76.0,187.8 L77.5,187.0 L79.0,186.2 L80.5,185.4 L82.0,184.5 L83.5,183.7 L85.0,182.9 L86.5,182.1 L88.0,181.3 L89.5,180.5 L91.0,179.7 L92.5,178.9 L94.0,178.2 L95.5,177.4 L97.0,176.7 L98.5,175.9 L100.0,175.2 L101.5,174.4 L103.0,173.6 L104.5,172.9 L106.0,172.1 L107.5,171.4 L109.0,170.6 L110.5,169.9 L112.0,169.1 L113.5,168.4 L115.0,167.7 L116.5,167.0 L118.0,166.3 L119.5,165.6 L121.0,165.0 L122.5,164.3 L124.0,163.6 L125.5,162.9 L127.0,162.3 L128.5,161.6 L130.0,160.9 L131.5,160.2 L133.0,159.6 L134.5,158.9 L136.0,158.3 L137.5,157.7 L139.0,157.0 L140.5,156.4 L142.0,155.7 L143.5,155.1 L145.0,154.4 L146.5,153.8 L148.0,153.1 L149.5,152.5 L151.0,151.9 L152.5,151.3 L154.0,150.8 L155.5,150.2 L157.0,149.6 L158.5,149.1 L160.0,148.5 L161.5,148.0 L163.0,147.4 L164.5,146.8 L166.0,146.4 L167.5,145.9 L169.0,145.5 L170.5,145.1 L172.0,144.6 L173.5,144.2 L175.0,143.8 L176.5,143.4 L178.0,143.0 L179.5,142.6 L181.0,142.2 L182.5,141.8 L184.0,141.7 L185.5,141.6 L187.0,141.5 L188.5,141.4 L190.0,141.3 L191.5,141.1 L193.0,141.0 L194.5,140.9 L196.0,140.8 L197.5,140.7 L199.0,140.7 L200.5,140.7 L202.0,140.7 L203.5,140.7 L205.0,140.6 L206.5,140.6 L208.0,140.9 L209.5,141.7 L211.0,142.5 L212.5,143.2 L214.0,144.0 L215.5,144.8 L217.0,145.6 L218.5,146.4 L220.0,147.1 L221.5,147.9 L223.0,148.8 L224.5,150.1 L226.0,151.5 L227.5,152.8 L229.0,154.1 L230.5,155.4 L232.0,156.7 L233.5,158.0 L235.0,159.3 L236.5,160.7 L238.0,162.3 L239.5,163.9 L241.0,165.5 L242.5,167.1 L244.0,168.8 L245.5,170.4 L247.0,172.0 L248.5,173.7 L250.0,175.3 L251.5,176.8 L253.0,178.3 L254.5,179.9 L256.0,181.4 L257.5,182.9 L259.0,184.4 L260.5,186.1 L262.0,187.9 L263.5,189.7 L265.0,191.6 L266.5,193.4 L268.0,195.2 L269.5,197.2 L271.0,199.1 L272.5,201.1 L274.0,203.1 L275.5,205.1 L277.0,207.1 L278.5,208.9 L280.0,210.5 L281.5,212.1 L283.0,213.6 L284.5,215.2 L286.0,216.7 L287.5,218.3 L289.0,219.9 L290.5,221.4 L292.0,223.0 L293.5,224.6 L295.0,226.2 L296.5,227.7 L298.0,229.3 L299.5,230.9 L301.0,232.5 L302.5,234.1 L304.0,235.6 L305.5,237.2 L307.0,238.8 L308.5,240.3 L310.0,241.8 L311.5,243.3 L313.0,244.8 L314.5,246.2 L316.0,247.7 L317.5,249.2 L319.0,250.7 L320.5,252.2 L322.0,253.6 L323.5,255.1 L325.0,256.6 L326.5,258.2 L328.0,259.8 L329.5,261.6 L331.0,263.4 L332.5,265.3 L334.0,267.2 L335.5,269.0 L337.0,270.9 L338.5,272.5 L340.0,274.0 L341.5,275.5 L343.0,276.9 L344.5,278.4 L346.0,279.9 L347.5,281.4 L349.0,282.8 L350.5,284.3 L352.0,285.8 L353.5,287.3 L355.0,288.7"/>
<path d="M46.0,212.1 L47.5,211.3 L49.0,210.6 L50.5,209.8 L52.0,209.1 L53.5,208.3 L55.0,207.6 L56.5,206.9 L58.0,206.1 L59.5,205.4 L61.0,204.6 L62.5,203.9 L64.0,203.1 L65.5,202.4 L67.0,201.6 L68.5,200.9 L70.0,200.2 L71.5,199.5 L73.0,198.7 L74.5,198.0 L76.0,197.3 L77.5,196.6 L79.0,195.9 L80.5,195.1 L82.0,194.4 L83.5,193.7 L85.0,193.0 L86.5,192.2 L88.0,191.5 L89.5,190.8 L91.0,190.1 L92.5,189.5 L94.0,188.8 L95.5,188.1 L97.0,187.4 L98.5,186.8 L100.0,186.1 L101.5,185.4 L103.0,184.8 L104.5,184.1 L106.0,183.4 L107.5,182.8 L109.0,182.1 L110.5,181.4 L112.0,180.8 L113.5,180.1 L115.0,179.5 L116.5,178.9 L118.0,178.3 L119.5,177.7 L121.0,177.1 L122.5,176.5 L124.0,175.9 L125.5,175.3 L127.0,174.7 L128.5,174.1 L130.0,173.5 L131.5,172.9 L133.0,172.4 L134.5,171.8 L136.0,171.3 L137.5,170.7 L139.0,170.1 L140.5,169.6 L142.0,169.0 L143.5,168.5 L145.0,167.9 L146.5,167.4 L148.0,166.8 L149.5,166.3 L151.0,165.8 L152.5,165.3 L154.0,164.8 L155.5,164.3 L157.0,163.8 L158.5,163.3 L160.0,162.8 L161.5,162.3 L163.0,161.9 L164.5,161.4 L166.0,160.9 L167.5,160.6 L169.0,160.2 L170.5,159.8 L172.0,159.4 L173.5,159.0 L175.0,158.7 L176.5,158.3 L178.0,158.0 L179.5,157.7 L181.0,157.4 L182.5,157.1 L184.0,157.0 L185.5,156.9 L187.0,156.8 L188.5,156.7 L190.0,156.6 L191.5,156.5 L193.0,156.3 L194.5,156.2 L196.0,156.1 L197.5,156.0 L199.0,156.0 L200.5,156.0 L202.0,156.0 L203.5,156.0 L205.0,156.0 L206.5,155.9 L208.0,156.2 L209.5,157.0 L211.0,157.8 L212.5,158.7 L214.0,159.5 L215.5,160.3 L217.0,161.1 L218.5,162.0 L220.0,162.8 L221.5,163.6 L223.0,164.5 L224.5,165.9 L226.0,167.2 L227.5,168.6 L229.0,169.9 L230.5,171.3 L232.0,172.6 L233.5,174.0 L235.0,175.4 L236.5,176.7 L238.0,178.3 L239.5,179.9 L241.0,181.5 L242.5,183.1 L244.0,184.7 L245.5,186.4 L247.0,188.0 L248.5,189.6 L250.0,191.2 L251.5,192.8 L253.0,194.3 L254.5,195.9 L256.0,197.4 L257.5,199.0 L259.0,200.5 L260.5,202.1 L262.0,203.9 L263.5,205.7 L265.0,207.5 L266.5,209.2 L268.0,211.0 L269.5,212.8 L271.0,214.7 L272.5,216.6 L274.0,218.5 L275.5,220.4 L277.0,222.3 L278.5,224.1 L280.0,225.5 L281.5,226.9 L283.0,228.4 L284.5,229.8 L286.0,231.2 L287.5,232.7 L289.0,234.1 L290.5,235.6 L292.0,237.0 L293.5,238.5 L295.0,239.9 L296.5,241.4 L298.0,242.8 L299.5,244.3 L301.0,245.7 L302.5,247.2 L304.0,248.7 L305.5,250.1 L307.0,251.6 L308.5,253.0 L310.0,254.4 L311.5,255.8 L313.0,257.2 L314.5,258.5 L316.0,259.9 L317.5,261.3 L319.0,262.7 L320.5,264.1 L322.0,265.5 L323.5,266.9 L325.0,268.3 L326.5,269.8 L328.0,271.3 L329.5,272.9 L331.0,274.8 L332.5,276.6 L334.0,278.5 L335.5,280.3 L337.0,282.2 L338.5,283.8 L340.0,285.3 L341.5,286.9 L343.0,288.4 L344.5,289.9"/>
<path d="M46.0,218.0 L47.5,217.3 L49.0,216.6 L50.5,216.0 L52.0,215.3 L53.5,214.6 L55.0,213.9 L56.5,213.2 L58.0,212.5 L59.5,211.9 L61.0,211.2 L62.5,210.5 L64.0,209.8 L65.5,209.2 L67.0,208.5 L68.5,207.8 L70.0,207.2 L71.5,206.5 L73.0,205.9 L74.5,205.2 L76.0,204.6 L77.5,203.9 L79.0,203.3 L80.5,202.6 L82.0,201.9 L83.5,201.3 L85.0,200.6 L86.5,200.0 L88.0,199.3 L89.5,198.7 L91.0,198.1 L92.5,197.5 L94.0,196.9 L95.5,196.3 L97.0,195.6 L98.5,195.0 L100.0,194.4 L101.5,193.8 L103.0,193.2 L104.5,192.6 L106.0,192.0 L107.5,191.4 L109.0,190.8 L110.5,190.2 L112.0,189.6 L113.5,189.0 L115.0,188.4 L116.5,187.9 L118.0,187.4 L119.5,186.8 L121.0,186.3 L122.5,185.7 L124.0,185.2 L125.5,184.6 L127.0,184.1 L128.5,183.6 L130.0,183.0 L131.5,182.5 L133.0,182.0 L134.5,181.5 L136.0,181.0 L137.5,180.5 L139.0,180.0 L140.5,179.5 L142.0,179.0 L143.5,178.5 L145.0,178.0 L146.5,177.6 L148.0,177.1 L149.5,176.6 L151.0,176.1 L152.5,175.7 L154.0,175.3 L155.5,174.8 L157.0,174.4 L158.5,173.9 L160.0,173.5 L161.5,173.1 L163.0,172.6 L164.5,172.2 L166.0,171.8 L167.5,171.5 L169.0,171.1 L170.5,170.8 L172.0,170.4 L173.5,170.1 L175.0,169.7 L176.5,169.4 L178.0,169.1 L179.5,168.9 L181.0,168.6 L182.5,168.3 L184.0,168.3 L185.5,168.2 L187.0,168.1 L188.5,168.0 L190.0,167.9 L191.5,167.8 L193.0,167.7 L194.5,167.6 L196.0,167.5 L197.5,167.4 L199.0,167.4 L200.5,167.3 L202.0,167.3 L203.5,167.3 L205.0,167.2 L206.5,167.2 L208.0,167.5 L209.5,168.3 L211.0,169.2 L212.5,170.0 L214.0,170.9 L215.5,171.7 L217.0,172.6 L218.5,173.4 L220.0,174.3 L221.5,175.1 L223.0,176.0 L224.5,177.4 L226.0,178.8 L227.5,180.2 L229.0,181.5 L230.5,182.9 L232.0,184.3 L233.5,185.7 L235.0,187.1 L236.5,188.5 L238.0,190.0 L239.5,191.6 L241.0,193.2 L242.5,194.7 L244.0,196.4 L245.5,198.0 L247.0,199.7 L248.5,201.3 L250.0,202.9 L251.5,204.4 L253.0,206.0 L254.5,207.5 L256.0,209.1 L257.5,210.6 L259.0,212.2 L260.5,213.8 L262.0,215.5 L263.5,217.3 L265.0,219.0 L266.5,220.8 L268.0,222.5 L269.5,224.3 L271.0,226.1 L272.5,227.9 L274.0,229.7 L275.5,231.5 L277.0,233.4 L278.5,235.1 L280.0,236.5 L281.5,237.9 L283.0,239.2 L284.5,240.6 L286.0,242.0 L287.5,243.4 L289.0,244.8 L290.5,246.2 L292.0,247.6 L293.5,248.9 L295.0,250.3 L296.5,251.7 L298.0,253.2 L299.5,254.6 L301.0,256.0 L302.5,257.4 L304.0,258.8 L305.5,260.2 L307.0,261.6 L308.5,263.0 L310.0,264.3 L311.5,265.7 L313.0,267.0 L314.5,268.4 L316.0,269.8 L317.5,271.1 L319.0,272.5 L320.5,273.8 L322.0,275.2 L323.5,276.6 L325.0,277.9 L326.5,279.4 L328.0,280.8 L329.5,282.4 L331.0,284.2 L332.5,286.1 L334.0,287.9 L335.5,289.8"/>
<path d="M46.0,222.9 L47.5,222.3 L49.0,221.7 L50.5,221.1 L52.0,220.4 L53.5,219.8 L55.0,219.2 L56.5,218.6 L58.0,217.9 L59.5,217.3 L61.0,216.7 L62.5,216.0 L64.0,215.4 L65.5,214.8 L67.0,214.2 L68.5,213.6 L70.0,213.0 L71.5,212.4 L73.0,211.8 L74.5,211.2 L76.0,210.6 L77.5,210.0 L79.0,209.4 L80.5,208.8 L82.0,208.2 L83.5,207.6 L85.0,207.0 L86.5,206.4 L88.0,205.8 L89.5,205.2 L91.0,204.7 L92.5,204.1 L94.0,203.5 L95.5,203.0 L97.0,202.4 L98.5,201.9 L100.0,201.3 L101.5,200.7 L103.0,200.2 L104.5,199.6 L106.0,199.1 L107.5,198.5 L109.0,198.0 L110.5,197.4 L112.0,196.9 L113.5,196.3 L115.0,195.8 L116.5,195.3 L118.0,194.8 L119.5,194.3 L121.0,193.8 L122.5,193.3 L124.0,192.8 L125.5,192.3 L127.0,191.8 L128.5,191.3 L130.0,190.8 L131.5,190.3 L133.0,189.8 L134.5,189.4 L136.0,189.0 L137.5,188.5 L139.0,188.1 L140.5,187.6 L142.0,187.2 L143.5,186.7 L145.0,186.3 L146.5,185.9 L148.0,185.4 L149.5,185.0 L151.0,184.6 L152.5,184.2 L154.0,183.8 L155.5,183.4 L157.0,183.0 L158.5,182.6 L160.0,182.2 L161.5,181.8 L163.0,181.4 L164.5,181.0 L166.0,180.7 L167.5,180.3 L169.0,180.0 L170.5,179.7 L172.0,179.3 L173.5,179.0 L175.0,178.7 L176.5,178.4 L178.0,178.1 L179.5,177.9 L181.0,177.7 L182.5,177.5 L184.0,177.4 L185.5,177.3 L187.0,177.2 L188.5,177.1 L190.0,177.0 L191.5,176.9 L193.0,176.8 L194.5,176.7 L196.0,176.6 L197.5,176.5 L199.0,176.5 L200.5,176.4 L202.0,176.4 L203.5,176.3 L205.0,176.3 L206.5,176.3 L208.0,176.5 L209.5,177.4 L211.0,178.2 L212.5,179.1 L214.0,180.0 L215.5,180.8 L217.0,181.7 L218.5,182.6 L220.0,183.4 L221.5,184.3 L223.0,185.2 L224.5,186.6 L226.0,188.0 L227.5,189.4 L229.0,190.8 L230.5,192.2 L232.0,193.6 L233.5,195.0 L235.0,196.4 L236.5,197.8 L238.0,199.4 L239.5,200.9 L241.0,202.4 L242.5,204.0 L244.0,205.7 L245.5,207.3 L247.0,208.9 L248.5,210.5 L250.0,212.1 L251.5,213.7 L253.0,215.3 L254.5,216.8 L256.0,218.4 L257.5,219.9 L259.0,221.5 L260.5,223.1 L262.0,224.8 L263.5,226.5 L265.0,228.2 L266.5,229.9 L268.0,231.6 L269.5,233.4 L271.0,235.1 L272.5,236.9 L274.0,238.7 L275.5,240.4 L277.0,242.2 L278.5,243.9 L280.0,245.2 L281.5,246.6 L283.0,248.0 L284.5,249.3 L286.0,250.7 L287.5,252.1 L289.0,253.5 L290.5,254.8 L292.0,256.2 L293.5,257.6 L295.0,259.0 L296.5,260.4 L298.0,261.8 L299.5,263.2 L301.0,264.5 L302.5,265.9 L304.0,267.3 L305.5,268.7 L307.0,270.1 L308.5,271.5 L310.0,272.9 L311.5,274.2 L313.0,275.6 L314.5,276.9 L316.0,278.3 L317.5,279.6 L319.0,281.0 L320.5,282.4 L322.0,283.7 L323.5,285.1 L325.0,286.4 L326.5,287.9 L328.0,289.3"/>
<path d="M46.0,227.3 L47.5,226.7 L49.0,226.1 L50.5,225.5 L52.0,225.0 L53.5,224.4 L55.0,223.8 L56.5,223.2 L58.0,222.6 L59.5,222.1 L61.0,221.5 L62.5,220.9 L64.0,220.3 L65.5,219.7 L67.0,219.2 L68.5,218.6 L70.0,218.1 L71.5,217.5 L73.0,217.0 L74.5,216.4 L76.0,215.9 L77.5,215.3 L79.0,214.7 L80.5,214.2 L82.0,213.6 L83.5,213.1 L85.0,212.5 L86.5,212.0 L88.0,211.4 L89.5,210.9 L91.0,210.4 L92.5,209.9 L94.0,209.3 L95.5,208.8 L97.0,208.3 L98.5,207.8 L100.0,207.3 L101.5,206.7 L103.0,206.2 L104.5,205.7 L106.0,205.2 L107.5,204.7 L109.0,204.2 L110.5,203.6 L112.0,203.2 L113.5,202.7 L115.0,202.2 L116.5,201.7 L118.0,201.2 L119.5,200.8 L121.0,200.3 L122.5,199.8 L124.0,199.4 L125.5,198.9 L127.0,198.4 L128.5,198.0 L130.0,197.5 L131.5,197.0 L133.0,196.6 L134.5,196.2 L136.0,195.8 L137.5,195.4 L139.0,195.0 L140.5,194.6 L142.0,194.2 L143.5,193.8 L145.0,193.4 L146.5,193.0 L148.0,192.6 L149.5,192.2 L151.0,191.8 L152.5,191.5 L154.1,191.1 L155.6,190.7 L157.1,190.4 L158.6,190.0 L160.2,189.6 L161.7,189.3 L163.2,188.9 L164.7,188.5 L166.3,188.2 L167.8,187.9 L169.3,187.6 L170.8,187.2 L172.4,186.9 L173.9,186.6 L175.4,186.3 L177.0,186.0 L178.5,185.8 L180.0,185.6 L181.6,185.4 L183.1,185.2 L184.6,185.1 L186.2,185.0 L187.7,184.9 L189.2,184.9 L190.8,184.8 L192.3,184.7 L193.9,184.6 L195.4,184.5 L196.9,184.4 L198.5,184.3 L200.0,184.2 L201.5,184.2 L203.1,184.1 L204.6,184.0 L206.2,184.0 L207.7,183.9 L209.2,184.2 L210.7,185.0 L212.2,185.9 L213.7,186.8 L215.2,187.7 L216.7,188.6 L218.2,189.4 L219.7,190.3 L221.2,191.2 L222.7,192.1 L224.2,193.0 L225.7,194.4 L227.2,195.8 L228.7,197.2 L230.2,198.6 L231.7,200.0 L233.1,201.5 L234.6,202.9 L236.1,204.3 L237.6,205.7 L239.1,207.2 L240.6,208.7 L242.1,210.2 L243.6,211.8 L245.1,213.4 L246.6,215.1 L248.0,216.7 L249.5,218.3 L251.0,219.9 L252.5,221.4 L254.0,223.0 L255.5,224.6 L256.9,226.2 L258.4,227.7 L259.9,229.3 L261.4,230.9 L262.9,232.6 L264.3,234.3 L265.8,235.9 L267.3,237.6 L268.8,239.3 L270.3,241.0 L271.7,242.7 L273.2,244.4 L274.7,246.1 L276.2,247.8 L277.7,249.6 L279.2,251.2 L280.6,252.6 L282.0,254.0 L283.5,255.4 L284.9,256.7 L286.4,258.1 L287.8,259.5 L289.3,260.9 L290.7,262.3 L292.2,263.7 L293.7,265.1 L295.1,266.5 L296.6,267.9 L298.1,269.3 L299.6,270.7 L301.0,272.1 L302.5,273.5 L304.0,274.9 L305.5,276.3 L307.0,277.7 L308.5,279.1 L310.0,280.5 L311.5,281.9 L313.0,283.2 L314.5,284.6 L316.0,286.0 L317.5,287.4 L319.0,288.8"/>
<path d="M46.0,231.2 L47.5,230.7 L49.0,230.1 L50.5,229.6 L52.0,229.0 L53.5,228.5 L55.0,228.0 L56.5,227.4 L58.0,226.9 L59.5,226.3 L61.0,225.8 L62.5,225.3 L64.0,224.7 L65.5,224.2 L67.0,223.7 L68.5,223.1 L70.0,222.6 L71.5,222.1 L73.0,221.6 L74.5,221.1 L76.0,220.6 L77.5,220.1 L79.0,219.5 L80.5,219.0 L82.0,218.5 L83.5,218.0 L85.0,217.5 L86.5,217.0 L88.0,216.5 L89.5,216.0 L91.0,215.5 L92.5,215.0 L94.0,214.5 L95.5,214.0 L97.0,213.6 L98.5,213.1 L100.0,212.6 L101.5,212.1 L103.0,211.6 L104.5,211.1 L106.0,210.7 L107.5,210.2 L109.0,209.7 L110.5,209.2 L112.0,208.8 L113.5,208.3 L115.0,207.8 L116.5,207.4 L118.0,207.0 L119.5,206.5 L121.0,206.1 L122.5,205.6 L124.0,205.2 L125.5,204.8 L127.0,204.3 L128.5,203.9 L130.0,203.4 L131.5,203.0 L133.0,202.6 L134.5,202.2 L136.0,201.9 L137.5,201.5 L139.0,201.1 L140.5,200.8 L142.0,200.4 L143.5,200.0 L145.0,199.7 L146.5,199.3 L148.0,198.9 L149.5,198.6 L151.1,198.2 L152.7,197.9 L154.3,197.5 L155.9,197.2 L157.5,196.9 L159.1,196.5 L160.7,196.2 L162.3,195.8 L163.9,195.5 L165.5,195.2 L167.1,194.8 L168.7,194.5 L170.3,194.2 L171.9,193.9 L173.5,193.6 L175.1,193.3 L176.7,193.0 L178.3,192.7 L179.9,192.6 L181.5,192.4 L183.1,192.2 L184.8,192.1 L186.4,192.0 L188.0,191.9 L189.6,191.8 L191.2,191.7 L192.8,191.6 L194.4,191.5 L196.1,191.4 L197.7,191.3 L199.3,191.2 L200.9,191.1 L202.5,191.0 L204.1,190.9 L205.8,190.8 L207.4,190.8 L209.0,190.7 L210.6,190.6 L212.2,190.9 L213.6,191.7 L215.1,192.6 L216.6,193.5 L218.0,194.4 L219.5,195.3 L220.9,196.2 L222.4,197.1 L223.9,197.9 L225.3,198.8 L226.8,199.8 L228.2,201.2 L229.7,202.6 L231.1,204.0 L232.6,205.4 L234.1,206.8 L235.5,208.3 L237.0,209.7 L238.4,211.1 L239.9,212.5 L241.3,214.0 L242.8,215.5 L244.2,217.0 L245.7,218.6 L247.2,220.2 L248.6,221.8 L250.1,223.4 L251.5,225.0 L252.9,226.6 L254.4,228.2 L255.8,229.7 L257.3,231.3 L258.7,232.9 L260.2,234.5 L261.6,236.1 L263.1,237.7 L264.5,239.3 L265.9,241.0 L267.4,242.6 L268.8,244.3 L270.3,245.9 L271.7,247.6 L273.2,249.3 L274.6,250.9 L276.1,252.6 L277.5,254.3 L279.0,256.0 L280.4,257.6 L281.8,259.0 L283.2,260.4 L284.6,261.8 L286.0,263.2 L287.4,264.7 L288.8,266.1 L290.3,267.5 L291.7,268.9 L293.1,270.3 L294.5,271.8 L295.9,273.2 L297.4,274.6 L298.8,276.0 L300.2,277.5 L301.7,278.9 L303.1,280.3 L304.6,281.8 L306.0,283.2 L307.5,284.6 L308.9,286.1 L310.4,287.5 L311.8,288.9"/>
<path d="M46.0,234.8 L47.5,234.3 L49.0,233.8 L50.5,233.3 L52.0,232.8 L53.5,232.3 L55.0,231.8 L56.5,231.3 L58.0,230.8 L59.5,230.3 L61.0,229.8 L62.5,229.3 L64.0,228.8 L65.5,228.3 L67.0,227.8 L68.5,227.3 L70.0,226.8 L71.5,226.3 L73.0,225.9 L74.5,225.4 L76.0,224.9 L77.5,224.4 L79.0,224.0 L80.5,223.5 L82.0,223.0 L83.5,222.5 L85.0,222.0 L86.5,221.6 L88.0,221.1 L89.5,220.6 L91.0,220.2 L92.5,219.7 L94.0,219.3 L95.5,218.8 L97.0,218.4 L98.5,217.9 L100.0,217.4 L101.5,217.0 L103.0,216.5 L104.5,216.1 L106.0,215.6 L107.5,215.2 L109.0,214.7 L110.5,214.3 L112.0,213.9 L113.5,213.4 L115.0,213.0 L116.5,212.6 L118.0,212.2 L119.5,211.8 L121.0,211.3 L122.5,210.9 L124.0,210.5 L125.5,210.1 L127.0,209.7 L128.5,209.3 L130.0,208.9 L131.5,208.4 L133.0,208.1 L134.5,207.7 L136.0,207.4 L137.5,207.1 L139.0,206.7 L140.5,206.4 L142.0,206.0 L143.5,205.7 L145.0,205.4 L146.5,205.0 L148.0,204.7 L149.5,204.3 L151.1,204.0 L152.8,203.7 L154.5,203.4 L156.2,203.1 L157.9,202.7 L159.5,202.4 L161.2,202.1 L162.9,201.8 L164.6,201.5 L166.3,201.1 L168.0,200.8 L169.7,200.5 L171.4,200.2 L173.0,200.0 L174.7,199.7 L176.4,199.4 L178.1,199.1 L179.8,198.8 L181.5,198.6 L183.2,198.5 L184.9,198.3 L186.6,198.2 L188.3,198.1 L190.0,198.0 L191.7,197.9 L193.4,197.8 L195.0,197.7 L196.7,197.6 L198.4,197.5 L200.1,197.3 L201.8,197.2 L203.5,197.1 L205.2,197.0 L206.9,197.0 L208.6,196.9 L210.3,196.8 L212.0,196.7 L213.7,196.6 L215.3,196.8 L216.8,197.7 L218.2,198.6 L219.6,199.5 L221.0,200.4 L222.4,201.3 L223.9,202.2 L225.3,203.1 L226.7,204.0 L228.1,204.9 L229.5,205.8 L230.9,207.2 L232.4,208.6 L233.8,210.0 L235.2,211.5 L236.6,212.9 L238.0,214.3 L239.4,215.7 L240.9,217.2 L242.3,218.6 L243.7,220.1 L245.1,221.5 L246.5,223.0 L247.9,224.5 L249.3,226.1 L250.8,227.8 L252.2,229.4 L253.6,231.0 L255.0,232.6 L256.4,234.1 L257.8,235.7 L259.2,237.3 L260.6,238.9 L262.0,240.5 L263.4,242.0 L264.8,243.6 L266.2,245.3 L267.6,246.9 L269.0,248.5 L270.5,250.2 L271.9,251.8 L273.3,253.4 L274.7,255.1 L276.1,256.7 L277.5,258.4 L278.9,260.0 L280.3,261.6 L281.7,263.2 L283.1,264.7 L284.4,266.2 L285.8,267.6 L287.2,269.1 L288.6,270.5 L290.0,272.0 L291.3,273.4 L292.7,274.9 L294.1,276.4 L295.5,277.8 L296.9,279.3 L298.3,280.8 L299.7,282.2 L301.1,283.7 L302.5,285.2 L303.9,286.7 L305.3,288.1 L306.7,289.6"/>
<path d="M46.0,238.2 L47.5,237.7 L49.0,237.3 L50.5,236.8 L52.0,236.3 L53.5,235.8 L55.0,235.4 L56.5,234.9 L58.0,234.4 L59.5,233.9 L61.0,233.5 L62.5,233.0 L64.0,232.5 L65.5,232.1 L67.0,231.6 L68.5,231.2 L70.0,230.7 L71.5,230.3 L73.0,229.8 L74.5,229.4 L76.0,228.9 L77.5,228.5 L79.0,228.0 L80.5,227.6 L82.0,227.2 L83.5,226.7 L85.0,226.3 L86.5,225.8 L88.0,225.4 L89.5,225.0 L91.0,224.5 L92.5,224.1 L94.0,223.7 L95.5,223.2 L97.0,222.8 L98.5,222.4 L100.0,222.0 L101.5,221.5 L103.0,221.1 L104.5,220.7 L106.0,220.2 L107.5,219.8 L109.0,219.4 L110.5,219.0 L112.0,218.6 L113.5,218.2 L115.0,217.8 L116.5,217.4 L118.0,217.0 L119.5,216.6 L121.0,216.2 L122.5,215.8 L124.0,215.4 L125.5,215.0 L127.0,214.6 L128.5,214.2 L130.0,213.8 L131.5,213.4 L133.0,213.1 L134.5,212.8 L136.0,212.5 L137.5,212.2 L139.0,211.9 L140.5,211.5 L142.0,211.2 L143.5,210.9 L145.0,210.6 L146.5,210.3 L148.0,210.0 L149.5,209.7 L151.2,209.3 L153.0,209.0 L154.7,208.7 L156.5,208.4 L158.3,208.1 L160.0,207.8 L161.8,207.5 L163.6,207.2 L165.4,206.9 L167.1,206.6 L168.9,206.3 L170.7,206.1 L172.4,205.8 L174.2,205.5 L176.0,205.2 L177.8,204.9 L179.5,204.6 L181.3,204.3 L183.1,204.2 L184.9,204.1 L186.7,203.9 L188.4,203.8 L190.2,203.7 L192.0,203.6 L193.8,203.5 L195.5,203.4 L197.3,203.2 L199.1,203.1 L200.9,203.0 L202.6,202.9 L204.4,202.8 L206.2,202.7 L208.0,202.6 L209.8,202.5 L211.5,202.4 L213.3,202.3 L215.1,202.2 L216.9,202.1 L218.5,202.3 L219.9,203.2 L221.3,204.1 L222.7,205.0 L224.0,205.9 L225.4,206.8 L226.8,207.6 L228.2,208.5 L229.5,209.4 L230.9,210.3 L232.3,211.2 L233.7,212.7 L235.0,214.1 L236.4,215.5 L237.8,217.0 L239.2,218.4 L240.5,219.8 L241.9,221.2 L243.3,222.7 L244.7,224.1 L246.0,225.5 L247.4,227.0 L248.8,228.4 L250.1,230.0 L251.5,231.5 L252.9,233.1 L254.3,234.7 L255.6,236.3 L257.0,237.9 L258.4,239.5 L259.7,241.1 L261.1,242.7 L262.5,244.3 L263.8,245.9 L265.2,247.5 L266.6,249.1 L268.0,250.7 L269.3,252.3 L270.7,253.9 L272.1,255.5 L273.4,257.1 L274.8,258.7 L276.2,260.3 L277.5,261.9 L278.9,263.6 L280.3,265.2 L281.6,266.8 L283.0,268.4 L284.4,269.9 L285.7,271.4 L287.1,272.9 L288.4,274.4 L289.8,275.9 L291.1,277.4 L292.5,278.9 L293.8,280.4 L295.2,282.0 L296.5,283.5 L297.9,285.0 L299.3,286.5 L300.6,288.0 L302.0,289.6"/>
<path d="M46.0,263.2 L60.0,260.6 L102.5,252.5 L118.0,251.5 L150.0,247.0 L187.5,243.7 L233.0,243.4 L270.7,284.5 L275.0,289.0"/>
<path d="M46.0,283.2 L60.0,282.5 L102.5,278.8 L118.0,278.1 L150.0,276.2 L187.5,275.0 L247.0,274.9 L254.0,284.5 L257.0,288.5"/>
</g><g fill="none" stroke="#00ff00" stroke-width="1.4" stroke-dasharray="2.8 1.1">
<path d="M329.5,172.1 L331.0,173.3 L332.5,174.5 L334.0,175.8 L335.5,177.0 L337.0,178.2 L338.5,179.5 L340.0,180.7 L341.5,185.0 L343.0,190.2 L344.5,191.4 L346.0,192.6 L347.5,193.8 L349.0,195.0 L350.5,196.2 L352.0,197.5 L353.5,198.9 L355.0,200.3 L356.5,201.5 L358.0,202.7 L359.5,203.9 L361.0,205.1 L362.5,206.3 L364.0,207.5 L365.5,208.7 L367.0,209.9 L368.5,219.7 L370.0,220.8 L371.5,221.8 L373.0,222.8 L374.5,223.9 L376.0,224.9 L377.5,226.0 L379.0,227.0 L380.5,228.2 L382.0,229.3 L383.5,230.3 L385.0,231.3 L386.5,232.4 L388.0,233.4 L389.5,234.4 L391.0,235.5 L392.5,236.6 L394.0,237.7 L395.5,238.8 L397.0,239.9 L398.5,241.0 L400.0,242.1 L401.5,243.1 L403.0,244.2 L404.5,245.3 L406.0,246.4 L407.5,247.4 L409.0,248.5 L410.5,249.5 L412.0,250.6 L413.5,251.6 L415.0,252.6 L416.5,253.7 L418.0,254.7 L419.5,255.8 L421.0,257.7 L422.5,261.2 L424.0,263.2 L425.5,264.4 L427.0,265.7 L428.5,267.0 L430.0,268.7 L431.5,270.4 L433.0,272.0 L434.5,273.7 L436.0,275.4 L437.5,275.6 L439.0,275.9 L440.5,276.1 L442.0,276.4 L443.5,276.7 L445.0,276.9 L446.5,277.2 L448.0,277.4"/>
<path d="M217.0,30.2 L218.5,31.5 L220.0,32.7 L221.5,34.0 L223.0,35.2 L224.5,36.5 L226.0,37.7 L227.5,39.0 L229.0,40.3 L230.5,41.7 L232.0,42.9 L233.5,44.0 L235.0,45.1 L236.5,46.1 L238.0,47.1 L239.5,48.1 L241.0,49.1 L242.5,50.4 L244.0,52.1 L245.5,58.9 L247.0,62.0 L248.5,63.1 L250.0,64.2 L251.5,65.2 L253.0,66.3 L254.5,67.3 L256.0,68.4 L257.5,70.1 L259.0,76.7 L260.5,81.5 L262.0,82.8 L263.5,84.0 L265.0,85.3 L266.5,86.3 L268.0,87.4 L269.5,88.4 L271.0,89.5 L272.5,99.0 L274.0,100.6 L275.5,102.3 L277.0,104.0 L278.5,105.5 L280.0,106.9 L281.5,108.3 L283.0,111.1 L284.5,116.5 L286.0,122.2 L287.5,124.4 L289.0,125.8 L290.5,127.1 L292.0,128.4 L293.5,129.8 L295.0,131.1 L296.5,132.6 L298.0,134.8 L299.5,140.8 L301.0,144.6 L302.5,146.0 L304.0,147.2 L305.5,148.4 L307.0,149.6 L308.5,150.8 L310.0,152.1 L311.5,153.3 L313.0,154.9 L314.5,156.2 L316.0,157.3 L317.5,158.5 L319.0,159.6 L320.5,160.7 L322.0,161.8 L323.5,162.9 L325.0,164.5 L326.5,168.2 L328.0,171.7 L329.5,173.6 L331.0,174.8 L332.5,176.1 L334.0,177.4 L335.5,178.7 L337.0,180.0 L338.5,181.4 L340.0,182.7 L341.5,186.5 L343.0,190.8 L344.5,192.0 L346.0,193.2 L347.5,194.4 L349.0,195.6 L350.5,196.8 L352.0,198.3 L353.5,200.2 L355.0,202.0 L356.5,203.2 L358.0,204.4 L359.5,205.6 L361.0,206.8 L362.5,208.0 L364.0,209.2 L365.5,210.3 L367.0,211.6 L368.5,219.7 L370.0,220.8 L371.5,221.9 L373.0,223.0 L374.5,224.1 L376.0,225.2 L377.5,226.3 L379.0,227.4 L380.5,228.8 L382.0,230.0 L383.5,231.0 L385.0,232.0 L386.5,233.0 L388.0,234.1 L389.5,235.1 L391.0,236.2 L392.5,237.4 L394.0,238.5 L395.5,239.7 L397.0,240.9 L398.5,242.1 L400.0,243.2 L401.5,244.4 L403.0,245.6 L404.5,246.8 L406.0,247.8 L407.5,248.9 L409.0,249.9 L410.5,250.9 L412.0,252.0 L413.5,253.0 L415.0,254.1 L416.5,255.1 L418.0,256.2 L419.5,257.2 L421.0,259.0 L422.5,261.9 L424.0,263.7 L425.5,264.9 L427.0,266.2 L428.5,267.4 L430.0,269.0 L431.5,270.5 L433.0,272.0 L434.5,273.6 L436.0,275.1 L437.5,275.5 L439.0,275.9 L440.5,276.4 L442.0,276.8 L443.5,277.2 L445.0,277.6 L446.5,278.0 L448.0,278.4"/>
<path d="M329.5,174.9 L331.0,176.2 L332.5,177.5 L334.0,178.9 L335.5,180.2 L337.0,181.6 L338.5,183.0 L340.0,184.4 L341.5,187.7 L343.0,191.4 L344.5,192.6 L346.0,193.8 L347.5,195.0 L349.0,196.2 L350.5,197.4 L352.0,199.1 L353.5,201.3 L355.0,203.5 L356.5,204.7 L358.0,205.9 L359.5,207.1 L361.0,208.2 L362.5,209.4 L364.0,210.6 L365.5,211.8 L367.0,213.0 L368.5,219.6 L370.0,220.8 L371.5,221.9 L373.0,223.1 L374.5,224.3 L376.0,225.4 L377.5,226.6 L379.0,227.8 L380.5,229.4 L382.0,230.7 L383.5,231.7 L385.0,232.6 L386.5,233.6 L388.0,234.6 L389.5,235.6 L391.0,236.8 L392.5,238.0 L394.0,239.3 L395.5,240.5 L397.0,241.8 L398.5,243.0 L400.0,244.3 L401.5,245.5 L403.0,246.8 L404.5,248.0 L406.0,249.1 L407.5,250.1 L409.0,251.2 L410.5,252.2 L412.0,253.3 L413.5,254.3 L415.0,255.3 L416.5,256.4 L418.0,257.4 L419.5,258.5 L421.0,260.1 L422.5,262.6 L424.0,264.2 L425.5,265.4 L427.0,266.6 L428.5,267.8 L430.0,269.2 L431.5,270.6 L433.0,272.1 L434.5,273.5 L436.0,274.9 L437.5,275.4 L439.0,276.0 L440.5,276.5 L442.0,277.1 L443.5,277.6 L445.0,278.2 L446.5,278.7 L448.0,279.3"/>
<path d="M329.5,175.9 L331.0,177.3 L332.5,178.7 L334.0,180.1 L335.5,181.4 L337.0,182.9 L338.5,184.4 L340.0,185.9 L341.5,188.8 L343.0,191.8 L344.5,193.0 L346.0,194.2 L347.5,195.4 L349.0,196.6 L350.5,197.8 L352.0,199.7 L353.5,202.2 L355.0,204.7 L356.5,205.9 L358.0,207.1 L359.5,208.3 L361.0,209.4 L362.5,210.6 L364.0,211.8 L365.5,213.0 L367.0,214.2 L368.5,219.6 L370.0,220.8 L371.5,222.0 L373.0,223.2 L374.5,224.4 L376.0,225.6 L377.5,226.8 L379.0,228.1 L380.5,229.8 L382.0,231.2 L383.5,232.2 L385.0,233.1 L386.5,234.1 L388.0,235.1 L389.5,236.1 L391.0,237.3 L392.5,238.6 L394.0,239.9 L395.5,241.2 L397.0,242.5 L398.5,243.8 L400.0,245.1 L401.5,246.5 L403.0,247.8 L404.5,249.1 L406.0,250.1 L407.5,251.2 L409.0,252.2 L410.5,253.2 L412.0,254.3 L413.5,255.3 L415.0,256.4 L416.5,257.4 L418.0,258.4 L419.5,259.5 L421.0,261.0 L422.5,263.1 L424.0,264.6 L425.5,265.8 L427.0,266.9 L428.5,268.1 L430.0,269.4 L431.5,270.7 L433.0,272.1 L434.5,273.4 L436.0,274.7 L437.5,275.4 L439.0,276.0 L440.5,276.7 L442.0,277.4 L443.5,278.0 L445.0,278.7 L446.5,279.3 L448.0,280.0"/>
<path d="M217.0,33.3 L218.5,34.5 L220.0,35.7 L221.5,36.8 L223.0,38.0 L224.5,39.2 L226.0,40.4 L227.5,41.6 L229.0,43.0 L230.5,44.4 L232.0,45.8 L233.5,47.1 L235.0,48.3 L236.5,49.3 L238.0,50.4 L239.5,51.5 L241.0,52.6 L242.5,54.3 L244.0,57.1 L245.5,61.9 L247.0,64.3 L248.5,65.5 L250.0,66.7 L251.5,67.9 L253.0,69.1 L254.5,70.3 L256.0,71.5 L257.5,74.4 L259.0,79.7 L260.5,83.8 L262.0,85.3 L263.5,86.9 L265.0,88.5 L266.5,89.6 L268.0,90.8 L269.5,91.9 L271.0,93.0 L272.5,98.8 L274.0,101.1 L275.5,103.7 L277.0,106.2 L278.5,108.1 L280.0,109.9 L281.5,111.7 L283.0,114.0 L284.5,118.0 L286.0,122.6 L287.5,125.0 L289.0,126.3 L290.5,127.6 L292.0,128.9 L293.5,130.2 L295.0,131.5 L296.5,133.2 L298.0,136.7 L299.5,141.2 L301.0,144.0 L302.5,145.8 L304.0,147.0 L305.5,148.2 L307.0,149.5 L308.5,150.7 L310.0,152.0 L311.5,153.4 L313.0,155.6 L314.5,157.5 L316.0,158.9 L317.5,160.3 L319.0,161.7 L320.5,163.1 L322.0,164.5 L323.5,165.9 L325.0,168.4 L326.5,172.0 L328.0,175.1 L329.5,176.8 L331.0,178.2 L332.5,179.6 L334.0,181.0 L335.5,182.4 L337.0,183.9 L338.5,185.4 L340.0,187.0 L341.5,189.6 L343.0,192.2 L344.5,193.4 L346.0,194.6 L347.5,195.8 L349.0,197.0 L350.5,198.2 L352.0,200.2 L353.5,202.9 L355.0,205.7 L356.5,206.8 L358.0,208.0 L359.5,209.2 L361.0,210.4 L362.5,211.5 L364.0,212.7 L365.5,213.9 L367.0,215.1 L368.5,219.6 L370.0,220.8 L371.5,222.0 L373.0,223.3 L374.5,224.5 L376.0,225.8 L377.5,227.0 L379.0,228.3 L380.5,230.2 L382.0,231.6 L383.5,232.6 L385.0,233.5 L386.5,234.5 L388.0,235.5 L389.5,236.4 L391.0,237.7 L392.5,239.0 L394.0,240.4 L395.5,241.7 L397.0,243.1 L398.5,244.4 L400.0,245.8 L401.5,247.2 L403.0,248.5 L404.5,249.9 L406.0,250.9 L407.5,252.0 L409.0,253.0 L410.5,254.0 L412.0,255.1 L413.5,256.1 L415.0,257.2 L416.5,258.2 L418.0,259.2 L419.5,260.3 L421.0,261.6 L422.5,263.6 L424.0,264.9 L425.5,266.0 L427.0,267.2 L428.5,268.3 L430.0,269.6 L431.5,270.8 L433.0,272.1 L434.5,273.3 L436.0,274.6 L437.5,275.3 L439.0,276.1 L440.5,276.8 L442.0,277.6 L443.5,278.3 L445.0,279.0 L446.5,279.8 L448.0,280.5"/>
<path d="M329.5,177.4 L331.0,178.9 L332.5,180.3 L334.0,181.7 L335.5,183.1 L337.0,184.6 L338.5,186.2 L340.0,187.8 L341.5,190.2 L343.0,192.5 L344.5,193.7 L346.0,194.9 L347.5,196.1 L349.0,197.3 L350.5,198.5 L352.0,200.6 L353.5,203.5 L355.0,206.4 L356.5,207.6 L358.0,208.8 L359.5,209.9 L361.0,211.1 L362.5,212.3 L364.0,213.5 L365.5,214.6 L367.0,215.9 L368.5,219.6 L370.0,220.8 L371.5,222.0 L373.0,223.3 L374.5,224.6 L376.0,225.9 L377.5,227.1 L379.0,228.5 L380.5,230.5 L382.0,231.9 L383.5,232.9 L385.0,233.8 L386.5,234.8 L388.0,235.8 L389.5,236.7 L391.0,238.0 L392.5,239.4 L394.0,240.7 L395.5,242.1 L397.0,243.5 L398.5,244.9 L400.0,246.3 L401.5,247.7 L403.0,249.1 L404.5,250.5 L406.0,251.5 L407.5,252.6 L409.0,253.6 L410.5,254.7 L412.0,255.7 L413.5,256.7 L415.0,257.8 L416.5,258.8 L418.0,259.9 L419.5,260.9 L421.0,262.2 L422.5,263.9 L424.0,265.2 L425.5,266.3 L427.0,267.4 L428.5,268.5 L430.0,269.7 L431.5,270.9 L433.0,272.1 L434.5,273.3 L436.0,274.5 L437.5,275.3 L439.0,276.1 L440.5,276.9 L442.0,277.7 L443.5,278.5 L445.0,279.3 L446.5,280.2 L448.0,281.0"/>
<path d="M329.5,178.0 L331.0,179.5 L332.5,180.9 L334.0,182.4 L335.5,183.8 L337.0,185.3 L338.5,187.0 L340.0,188.6 L341.5,190.8 L343.0,192.8 L344.5,194.0 L346.0,195.2 L347.5,196.4 L349.0,197.6 L350.5,198.8 L352.0,200.9 L353.5,204.0 L355.0,207.1 L356.5,208.2 L358.0,209.4 L359.5,210.6 L361.0,211.8 L362.5,212.9 L364.0,214.1 L365.5,215.3 L367.0,216.5 L368.5,219.5 L370.0,220.8 L371.5,222.1 L373.0,223.4 L374.5,224.7 L376.0,226.0 L377.5,227.3 L379.0,228.7 L380.5,230.7 L382.0,232.2 L383.5,233.2 L385.0,234.1 L386.5,235.1 L388.0,236.0 L389.5,237.0 L391.0,238.2 L392.5,239.7 L394.0,241.1 L395.5,242.5 L397.0,243.9 L398.5,245.4 L400.0,246.8 L401.5,248.2 L403.0,249.6 L404.5,251.1 L406.0,252.1 L407.5,253.1 L409.0,254.2 L410.5,255.2 L412.0,256.3 L413.5,257.3 L415.0,258.3 L416.5,259.4 L418.0,260.4 L419.5,261.5 L421.0,262.7 L422.5,264.2 L424.0,265.4 L425.5,266.5 L427.0,267.5 L428.5,268.6 L430.0,269.8 L431.5,270.9 L433.0,272.1 L434.5,273.2 L436.0,274.4 L437.5,275.3 L439.0,276.1 L440.5,277.0 L442.0,277.9 L443.5,278.7 L445.0,279.6 L446.5,280.5 L448.0,281.3"/>
<path d="M329.5,178.5 L331.0,180.0 L332.5,181.4 L334.0,182.9 L335.5,184.4 L337.0,185.9 L338.5,187.6 L340.0,189.3 L341.5,191.2 L343.0,193.0 L344.5,194.2 L346.0,195.4 L347.5,196.6 L349.0,197.8 L350.5,199.0 L352.0,201.2 L353.5,204.4 L355.0,207.6 L356.5,208.8 L358.0,210.0 L359.5,211.1 L361.0,212.3 L362.5,213.5 L364.0,214.7 L365.5,215.8 L367.0,217.1 L368.5,219.5 L370.0,220.8 L371.5,222.1 L373.0,223.4 L374.5,224.7 L376.0,226.1 L377.5,227.4 L379.0,228.8 L380.5,230.9 L382.0,232.5 L383.5,233.4 L385.0,234.3 L386.5,235.3 L388.0,236.2 L389.5,237.2 L391.0,238.5 L392.5,239.9 L394.0,241.4 L395.5,242.8 L397.0,244.3 L398.5,245.7 L400.0,247.2 L401.5,248.6 L403.0,250.1 L404.5,251.5 L406.0,252.6 L407.5,253.6 L409.0,254.7 L410.5,255.7 L412.0,256.7 L413.5,257.8 L415.0,258.8 L416.5,259.9 L418.0,260.9 L419.5,261.9 L421.0,263.1 L422.5,264.4 L424.0,265.6 L425.5,266.6 L427.0,267.7 L428.5,268.8 L430.0,269.9 L431.5,271.0 L433.0,272.1 L434.5,273.2 L436.0,274.3 L437.5,275.2 L439.0,276.1 L440.5,277.1 L442.0,278.0 L443.5,278.9 L445.0,279.8 L446.5,280.7 L448.0,281.7"/>
<path d="M329.5,178.9 L331.0,180.4 L332.5,181.9 L334.0,183.4 L335.5,184.8 L337.0,186.4 L338.5,188.1 L340.0,189.8 L341.5,191.6 L343.0,193.1 L344.5,194.3 L346.0,195.5 L347.5,196.7 L349.0,197.9 L350.5,199.1 L352.0,201.4 L353.5,204.8 L355.0,208.1 L356.5,209.3 L358.0,210.4 L359.5,211.6 L361.0,212.8 L362.5,213.9 L364.0,215.1 L365.5,216.3 L367.0,217.5 L368.5,219.5 L370.0,220.8 L371.5,222.1 L373.0,223.4 L374.5,224.8 L376.0,226.1 L377.5,227.5 L379.0,229.0 L380.5,231.1 L382.0,232.7 L383.5,233.6 L385.0,234.5 L386.5,235.5 L388.0,236.4 L389.5,237.3 L391.0,238.6 L392.5,240.1 L394.0,241.6 L395.5,243.1 L397.0,244.6 L398.5,246.0 L400.0,247.5 L401.5,249.0 L403.0,250.5 L404.5,251.9 L406.0,253.0 L407.5,254.0 L409.0,255.1 L410.5,256.1 L412.0,257.1 L413.5,258.2 L415.0,259.2 L416.5,260.3 L418.0,261.3 L419.5,262.3 L421.0,263.4 L422.5,264.6 L424.0,265.7 L425.5,266.8 L427.0,267.8 L428.5,268.9 L430.0,269.9 L431.5,271.0 L433.0,272.1 L434.5,273.2 L436.0,274.2 L437.5,275.2 L439.0,276.2 L440.5,277.1 L442.0,278.1 L443.5,279.1 L445.0,280.0 L446.5,281.0 L448.0,281.9"/>
<path d="M329.5,179.3 L331.0,180.7 L332.5,182.2 L334.0,183.7 L335.5,185.2 L337.0,186.8 L338.5,188.5 L340.0,190.2 L341.5,192.0 L343.0,193.3 L344.5,194.5 L346.0,195.7 L347.5,196.9 L349.0,198.1 L350.5,199.3 L352.0,201.6 L353.5,205.0 L355.0,208.5 L356.5,209.6 L358.0,210.8 L359.5,212.0 L361.0,213.1 L362.5,214.3 L364.0,215.5 L365.5,216.6 L367.0,217.9 L368.5,219.5 L370.0,220.8 L371.5,222.1 L373.0,223.5 L374.5,224.8 L376.0,226.2 L377.5,227.6 L379.0,229.1 L380.5,231.3 L382.0,232.8 L383.5,233.8 L385.0,234.7 L386.5,235.6 L388.0,236.6 L389.5,237.5 L391.0,238.8 L392.5,240.3 L394.0,241.8 L395.5,243.3 L397.0,244.8 L398.5,246.3 L400.0,247.8 L401.5,249.3 L403.0,250.8 L404.5,252.3 L406.0,253.3 L407.5,254.3 L409.0,255.4 L410.5,256.4 L412.0,257.5 L413.5,258.5 L415.0,259.5 L416.5,260.6 L418.0,261.6 L419.5,262.6 L421.0,263.7 L422.5,264.8 L424.0,265.9 L425.5,266.9 L427.0,267.9 L428.5,269.0 L430.0,270.0 L431.5,271.1 L433.0,272.1 L434.5,273.1 L436.0,274.2 L437.5,275.2 L439.0,276.2 L440.5,277.2 L442.0,278.2 L443.5,279.2 L445.0,280.2 L446.5,281.2 L448.0,282.2"/>
</g>
<defs><pattern id="h" width="3.9" height="8" patternUnits="userSpaceOnUse" patternTransform="rotate(20)"><rect width="3.9" height="8" fill="#00ff00"/><rect x="0" width="0.8" height="8" fill="#fff" fill-opacity="0.75"/></pattern></defs>
<path d="M46.0,114.7 L47.5,113.7 L49.0,112.7 L50.5,111.7 L52.0,110.7 L53.5,109.7 L55.0,108.7 L56.5,107.7 L58.0,106.7 L59.5,105.6 L61.0,103.4 L62.5,101.3 L64.0,99.5 L65.5,98.5 L67.0,97.9 L68.5,97.2 L70.0,96.5 L71.5,95.9 L73.0,95.2 L74.5,94.3 L76.0,93.4 L77.5,92.4 L79.0,91.4 L80.5,90.4 L82.0,89.3 L83.5,88.2 L85.0,87.0 L86.5,86.3 L88.0,85.7 L89.5,85.1 L91.0,84.6 L92.5,84.0 L94.0,83.3 L95.5,82.6 L97.0,82.0 L98.5,81.3 L100.0,80.7 L101.5,79.5 L103.0,78.2 L104.5,77.0 L106.0,75.8 L107.5,74.6 L109.0,73.6 L110.5,72.6 L112.0,71.6 L113.5,70.4 L115.0,68.8 L116.5,67.1 L118.0,65.5 L119.5,63.9 L121.0,62.6 L122.5,61.6 L124.0,60.6 L125.5,59.6 L127.0,58.6 L128.5,57.6 L130.0,56.6 L131.5,55.6 L133.0,54.6 L134.5,53.6 L136.0,52.6 L137.5,51.6 L139.0,50.5 L140.5,49.5 L142.0,48.4 L143.5,47.3 L145.0,46.2 L146.5,45.1 L148.0,44.0 L149.5,42.9 L151.0,41.7 L152.5,40.6 L154.0,39.5 L155.5,38.4 L157.0,37.4 L158.5,36.4 L160.0,35.3 L161.5,34.3 L163.0,33.5 L164.5,32.7 L166.0,31.9 L167.5,31.1 L169.0,30.4 L170.5,29.7 L172.0,29.1 L173.5,28.2 L175.0,27.3 L176.5,26.4 L178.0,25.6 L179.5,24.8 L181.0,24.1 L182.5,23.5 L184.0,23.0 L185.5,22.6 L187.0,22.2 L188.5,21.8 L190.0,21.5 L191.5,21.1 L193.0,21.0 L194.5,21.0 L196.0,21.0 L197.5,21.0 L199.0,21.0 L200.5,21.0 L202.0,21.0 L203.5,21.0 L205.0,21.0 L206.5,21.1 L208.0,21.7 L209.5,22.9 L211.0,24.1 L212.5,25.4 L214.0,26.7 L215.5,27.9 L217.0,29.2 L217.0,35.7 L215.5,34.5 L214.0,33.3 L212.5,32.1 L211.0,30.8 L209.5,29.8 L208.0,28.7 L206.5,27.7 L205.0,26.7 L203.5,26.5 L202.0,26.4 L200.5,26.2 L199.0,26.1 L197.5,25.9 L196.0,25.8 L194.5,25.6 L193.0,25.5 L191.5,25.6 L190.0,25.9 L188.5,26.2 L187.0,26.4 L185.5,26.7 L184.0,27.0 L182.5,27.3 L181.0,27.8 L179.5,28.4 L178.0,29.0 L176.5,29.6 L175.0,30.1 L173.5,30.7 L172.0,31.3 L170.5,32.0 L169.0,32.8 L167.5,33.6 L166.0,34.5 L164.5,35.3 L163.0,36.1 L161.5,37.0 L160.0,38.1 L158.5,39.2 L157.0,40.3 L155.5,41.4 L154.0,42.6 L152.5,43.7 L151.0,44.8 L149.5,46.0 L148.0,47.1 L146.5,48.2 L145.0,49.3 L143.5,50.4 L142.0,51.5 L140.5,52.6 L139.0,53.7 L137.5,54.8 L136.0,56.0 L134.5,57.1 L133.0,58.2 L131.5,59.3 L130.0,60.4 L128.5,61.5 L127.0,62.6 L125.5,63.7 L124.0,64.7 L122.5,65.8 L121.0,66.8 L119.5,68.2 L118.0,70.0 L116.5,71.9 L115.0,73.8 L113.5,75.7 L112.0,77.0 L110.5,78.0 L109.0,79.1 L107.5,80.2 L106.0,81.2 L104.5,82.3 L103.0,83.4 L101.5,84.5 L100.0,85.6 L98.5,86.4 L97.0,87.2 L95.5,87.9 L94.0,88.7 L92.5,89.5 L91.0,90.2 L89.5,91.0 L88.0,91.8 L86.5,92.5 L85.0,93.3 L83.5,94.7 L82.0,96.0 L80.5,97.4 L79.0,98.8 L77.5,100.2 L76.0,101.5 L74.5,102.8 L73.0,103.9 L71.5,104.9 L70.0,106.0 L68.5,107.0 L67.0,108.1 L65.5,109.1 L64.0,110.2 L62.5,111.3 L61.0,112.4 L59.5,113.7 L58.0,115.0 L56.5,116.3 L55.0,117.7 L53.5,119.0 L52.0,120.3 L50.5,121.7 L49.0,123.0 L47.5,124.3 L46.0,125.6Z" fill="url(#h)"/>
<path d="M205.0,25.4 L211.2,29.8 L215.0,32.9 L227.5,42.2 L233.8,48.5 L241.9,54.8 L245.0,62.2 L246.2,64.0 L256.2,72.9 L260.0,83.5 L265.0,89.8 L271.2,94.8 L273.8,99.5 L277.0,106.5 L280.0,111.0 L283.8,116.0 L286.9,123.5 L296.2,131.5 L298.8,139.1 L302.5,144.1 L311.2,151.4 L314.0,156.5 L323.8,167.2 L327.5,176.0 L336.2,184.8 L341.2,190.5 L351.2,198.5 L355.0,207.2 L366.2,216.0 L371.2,220.4 L378.8,227.2 L381.2,231.0 L390.0,236.4 L404.5,251.0" fill="none" stroke="#00ff00" stroke-width="3.3" stroke-linejoin="round"/>
<path d="M404.5,251.5 L420.8,262.8 L449.0,282.0" fill="none" stroke="#00ff00" stroke-width="2.2" stroke-linejoin="round"/>
<g fill="none" stroke="#ff0000" stroke-width="1.3" stroke-linejoin="round">
<path d="M46.0,113.8 L59.4,104.4 L59.4,95.6 L74.4,85.6 L86.2,76.9 L86.9,72.9 L87.5,66.9 L126.2,39.0 L130.0,38.1 L140.0,30.6 L153.1,28.8 L166.9,20.0 L172.5,18.8 L180.6,13.8 L193.8,11.5 L204.4,19.8 L207.5,19.8 L232.5,38.8 L246.2,47.5 L247.0,58.0 L260.0,66.2 L260.5,77.5 L273.8,86.2 L273.8,97.5 L283.8,105.0 L287.5,121.2 L300.0,132.5 L301.2,142.5 L313.8,152.5 L326.2,160.0 L328.8,170.0 L341.2,180.0 L342.5,188.8 L367.5,208.8 L368.2,219.0 L379.5,226.5 L420.8,255.2 L433.2,265.2 L449.0,275.2" stroke-width="1.2"/>
<path d="M326.2,160.0 L328.8,170.0 L341.2,180.0 L342.5,188.8 L367.5,208.8 L368.2,219.0 L379.5,226.5 L420.8,255.2" stroke-width="1.9"/>
<path d="M420.8,255.8 L422.3,261.3 L428.5,266.2 L436.5,274.6 L449.0,276.6" stroke-width="1.15"/>
<path d="M46.0,162.0 L55.4,152.1 L58.5,150.4 L71.0,138.9 L86.0,125.2 L100.0,113.8 L108.8,106.0 L150.0,73.8 L165.0,63.8 L182.5,53.8 L193.8,51.2 L205.0,52.5 L220.0,60.5 L235.0,75.0 L246.2,85.8 L252.5,96.0 L260.0,106.2 L270.0,120.5 L280.0,131.2 L297.5,157.5 L306.2,170.0 L313.8,181.0 L320.0,187.5 L340.0,210.0 L360.0,232.5 L372.0,246.0 L397.0,266.5 L428.2,284.5 L449.0,296.5"/>
<path d="M46.0,192.5 L65.0,180.0 L90.0,163.8 L115.0,148.8 L131.2,140.0 L150.0,130.0 L165.0,123.0 L182.5,117.0 L197.5,115.5 L207.5,115.5 L222.5,122.5 L236.2,133.8 L250.0,148.8 L260.0,158.8 L268.8,170.0 L277.5,182.5 L287.5,195.0 L307.5,220.0 L325.0,240.0 L337.5,255.8 L368.2,284.5 L449.0,360.0" stroke-width="2.2"/>
<path d="M46.0,241.4 L66.0,235.5 L87.7,229.5 L110.0,223.5 L132.0,218.0 L150.0,214.5 L182.5,209.5 L221.2,207.0 L235.0,216.2 L252.0,234.5 L278.0,265.6 L294.0,284.5 L449.0,468.0"/>
</g>
</g>
<rect x="46.0" y="10.0" width="403.0" height="284.0" fill="none" stroke="#333" stroke-width="1.1"/>
<path d="M86.44,294.0 v-4.3 M86.44,10.0 v4.3 M110.09,294.0 v-4.3 M110.09,10.0 v4.3 M126.88,294.0 v-4.3 M126.88,10.0 v4.3 M139.89,294.0 v-4.3 M139.89,10.0 v4.3 M150.53,294.0 v-4.3 M150.53,10.0 v4.3 M159.52,294.0 v-4.3 M159.52,10.0 v4.3 M167.32,294.0 v-4.3 M167.32,10.0 v4.3 M174.19,294.0 v-4.3 M174.19,10.0 v4.3 M180.33,294.0 v-9 M180.33,10.0 v9 M220.77,294.0 v-4.3 M220.77,10.0 v4.3 M244.43,294.0 v-4.3 M244.43,10.0 v4.3 M261.21,294.0 v-4.3 M261.21,10.0 v4.3 M274.23,294.0 v-4.3 M274.23,10.0 v4.3 M284.86,294.0 v-4.3 M284.86,10.0 v4.3 M293.86,294.0 v-4.3 M293.86,10.0 v4.3 M301.65,294.0 v-4.3 M301.65,10.0 v4.3 M308.52,294.0 v-4.3 M308.52,10.0 v4.3 M314.67,294.0 v-9 M314.67,10.0 v9 M355.11,294.0 v-4.3 M355.11,10.0 v4.3 M378.76,294.0 v-4.3 M378.76,10.0 v4.3 M395.54,294.0 v-4.3 M395.54,10.0 v4.3 M408.56,294.0 v-4.3 M408.56,10.0 v4.3 M419.20,294.0 v-4.3 M419.20,10.0 v4.3 M428.19,294.0 v-4.3 M428.19,10.0 v4.3 M435.98,294.0 v-4.3 M435.98,10.0 v4.3 M442.85,294.0 v-4.3 M442.85,10.0 v4.3 M449.0,246.67 h-4.5 M449.0,199.33 h-9 M46.0,152.00 h4.5 M449.0,152.00 h-4.5 M46.0,104.67 h9 M449.0,104.67 h-9 M46.0,57.33 h4.5 M449.0,57.33 h-4.5" stroke="#333" stroke-width="1" fill="none"/>
<g font-family="Liberation Serif, serif" font-size="20" fill="#1a1a1a">
<text transform="translate(36.7,15.0) scale(0.92,1)" text-anchor="end">3</text>
<text transform="translate(36.7,109.4) scale(0.92,1)" text-anchor="end">2</text>
<text transform="translate(36.7,204) scale(0.92,1)" text-anchor="end">1</text>
<text transform="translate(36.7,299.4) scale(0.92,1)" text-anchor="end">0</text>
<text transform="translate(33.9,316.2) scale(0.92,1)">10<tspan font-size="14.5" dy="-7.3" dx="0.3">5</tspan></text>
<text transform="translate(168.2,316.2) scale(0.92,1)">10<tspan font-size="14.5" dy="-7.3" dx="0.3">6</tspan></text>
<text transform="translate(302.5,316.2) scale(0.92,1)">10<tspan font-size="14.5" dy="-7.3" dx="0.3">7</tspan></text>
<text transform="translate(436.9,316.2) scale(0.92,1)">10<tspan font-size="14.5" dy="-7.3" dx="0.3">8</tspan></text>
<text x="212" y="336.5"><tspan font-style="italic">M</tspan></text>
<text transform="translate(241.3,336.5) scale(0.92,1)">[M</text>
<circle cx="270" cy="336.6" r="4.2" fill="none" stroke="#1a1a1a" stroke-width="0.8"/><circle cx="270" cy="336.6" r="1" fill="#1a1a1a"/>
<text transform="translate(277,336.5) scale(0.92,1)">]</text>
<text transform="translate(10.6,155.6) rotate(-90)" font-style="italic" font-size="17.5">z</text>
<text transform="translate(343.5,32.8) scale(1.0,1)" font-style="italic">m</text>
<text transform="translate(358.3,36.4) scale(0.92,1)" font-size="14">1</text>
<path d="M366.9,37.2 L375.4,18.3" stroke="#1a1a1a" stroke-width="1" fill="none"/>
<text transform="translate(376.8,32.8) scale(1.0,1)" font-style="italic">m</text>
<text transform="translate(391.2,36.5) scale(0.92,1)" font-size="14">2</text>
<text transform="translate(402.2,34.0) scale(1.0,1)" >=</text>
<text transform="translate(417.9,32.8) scale(0.92,1)" >1</text>
<text transform="translate(344.3,55.3) scale(0.92,1)" >2</text>
<text transform="translate(354.8,55.3) scale(1.0,1)" font-style="italic">a</text>
<text transform="translate(367.2,56.3) scale(1.0,1)" >=</text>
<text transform="translate(383.8,55.3) scale(0.975,1)" >3.57</text>
<circle cx="422.5" cy="45.8" r="2.4" fill="none" stroke="#1a1a1a" stroke-width="0.9"/>
<text transform="translate(342.6,72.7) scale(0.92,1)" >50</text>
<text transform="translate(360.6,72.7) scale(1.0,1)" >%</text>
<text transform="translate(383.8,72.7) scale(0.98,1)" >levels</text>
</g>
<g font-family="Liberation Serif, serif" font-size="17" fill="#1a1a1a">
<text transform="translate(180.3,30.3) scale(0.92,1)">0.1</text>
<text transform="translate(180.6,59) scale(0.92,1)">1</text>
<text transform="translate(181.6,121.2) scale(0.92,1)">10</text>
<text transform="translate(181.6,213.6) scale(0.92,1)">100</text>
</g>
</svg></body></html>
